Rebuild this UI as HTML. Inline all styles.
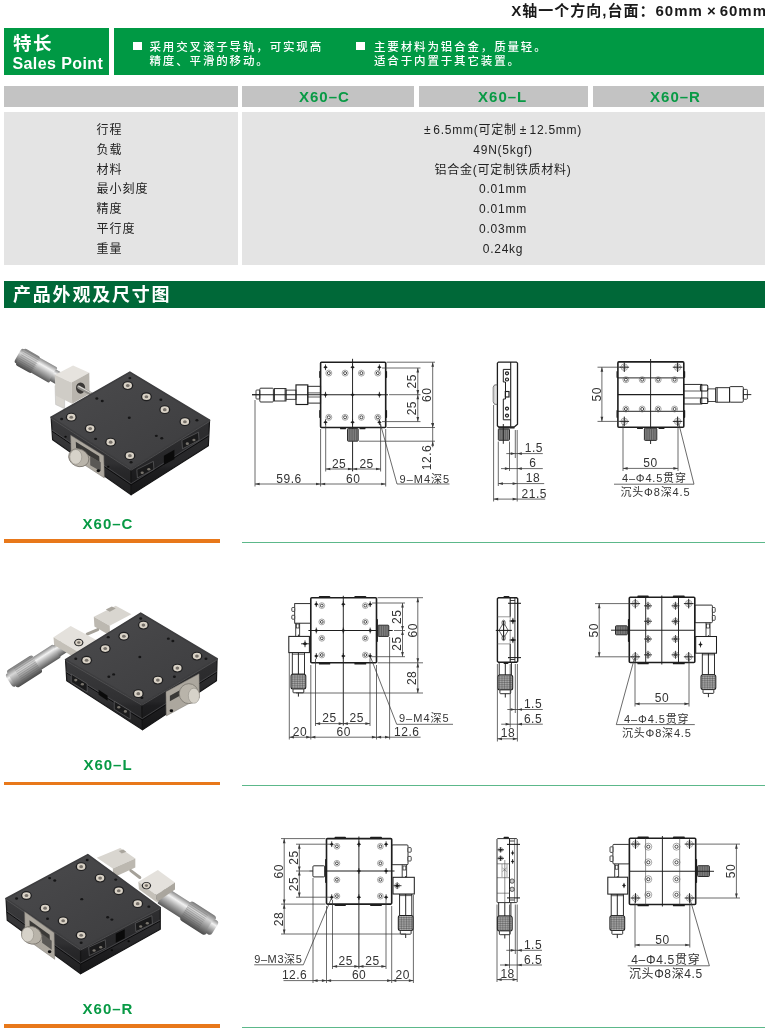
<!DOCTYPE html>
<html lang="zh"><head><meta charset="utf-8"><title>X60</title>
<style>
*{margin:0;padding:0;box-sizing:border-box}
html,body{width:765px;height:1032px;background:#fff;overflow:hidden}
body{position:relative;font-family:"Liberation Sans","Noto Sans CJK SC",sans-serif;color:#222}
.abs{position:absolute}
.title{right:-2px;top:2px;font-size:15px;font-weight:bold;letter-spacing:1px;white-space:nowrap;color:#1a1a1a;line-height:18px}
.g1{left:4px;top:28px;width:105.3px;height:46.7px;background:#009944}
.g2{left:114px;top:28px;width:650.4px;height:46.7px;background:#009944}
.sp1{left:13px;top:33.5px;font-size:18.5px;font-weight:bold;color:#fff;letter-spacing:1.5px;line-height:20px;white-space:nowrap}
.sp2{left:12.5px;top:53.5px;font-size:16px;font-weight:bold;color:#fff;letter-spacing:.4px;line-height:20px;white-space:nowrap}
.bul{width:8.6px;height:8.6px;background:#fff}
.ft{color:#fff;font-size:11.5px;font-weight:500;letter-spacing:1.85px;line-height:13.8px;white-space:nowrap}
.hd{top:85.5px;height:21.4px;background:#c3c3c3}
.bd{top:112.4px;height:152.4px;background:#e4e4e4}
.hx{top:85.5px;height:21px;line-height:21px;font-size:15px;font-weight:bold;color:#089a45;letter-spacing:1px;text-align:center;white-space:nowrap}
.lab{left:96.5px;margin-top:1.3px;font-size:12px;letter-spacing:1px;line-height:16px;color:#222;white-space:nowrap}
.val{left:241px;width:524px;margin-top:1.3px;text-align:center;font-size:12px;letter-spacing:.75px;line-height:16px;color:#222;white-space:nowrap}
.sec{left:4px;top:281px;width:760.5px;height:27.4px;background:#006838}
.sect{left:13px;top:285.3px;font-size:18px;font-weight:bold;color:#fff;letter-spacing:1.8px;line-height:20px;white-space:nowrap}
.pl{font-size:15px;font-weight:bold;color:#089a45;letter-spacing:1px;white-space:nowrap;line-height:18px;width:120px;text-align:center;left:48px}
.or{left:4px;width:216px;height:3.9px;background:#e8781a}
.gl{left:242px;width:523px;height:1.2px;background:#5cb88a}
svg{position:absolute;left:0;top:0}
svg text{font-family:"Liberation Sans","Noto Sans CJK SC",sans-serif}
#w{position:absolute;left:0;top:0;width:765px;height:1032px;will-change:transform}
</style></head><body><div id="w">
<div class="abs title">X轴一个方向,台面：60mm<span style="margin:0 3px 0 4px">×</span>60mm</div>
<div class="abs g1"></div><div class="abs g2"></div>
<div class="abs sp1">特长</div>
<div class="abs sp2">Sales Point</div>
<div class="abs bul" style="left:133px;top:41.5px"></div>
<div class="abs ft" style="left:149.5px;top:41.2px">采用交叉滚子导轨，可实现高<br>精度、平滑的移动。</div>
<div class="abs bul" style="left:356px;top:41.5px"></div>
<div class="abs ft" style="left:374px;top:41.2px">主要材料为铝合金，质量轻。<br>适合于内置于其它装置。</div>
<div class="abs hd" style="left:4px;width:233.8px"></div>
<div class="abs hd" style="left:242px;width:171.9px"></div>
<div class="abs hd" style="left:418.6px;width:169.3px"></div>
<div class="abs hd" style="left:592.9px;width:171.6px"></div>
<div class="abs hx" style="left:224.4px;width:200px">X60–C</div>
<div class="abs hx" style="left:402.7px;width:200px">X60–L</div>
<div class="abs hx" style="left:575.5px;width:200px">X60–R</div>
<div class="abs bd" style="left:4px;width:233.8px"></div>
<div class="abs bd" style="left:242px;width:522.5px"></div>
<div class="abs lab" style="top:121px">行程</div>
<div class="abs lab" style="top:140.5px">负载</div>
<div class="abs lab" style="top:160.5px">材料</div>
<div class="abs lab" style="top:180px">最小刻度</div>
<div class="abs lab" style="top:200px">精度</div>
<div class="abs lab" style="top:220px">平行度</div>
<div class="abs lab" style="top:240px">重量</div>
<div class="abs val" style="top:121px"><span style="margin-right:2px">±</span>6.5mm(可定制<span style="margin:0 2.5px 0 3px">±</span>12.5mm)</div>
<div class="abs val" style="top:140.5px">49N(5kgf)</div>
<div class="abs val" style="top:160.5px">铝合金(可定制铁质材料)</div>
<div class="abs val" style="top:180px">0.01mm</div>
<div class="abs val" style="top:200px">0.01mm</div>
<div class="abs val" style="top:220px">0.03mm</div>
<div class="abs val" style="top:240px">0.24kg</div>
<div class="abs sec"></div>
<div class="abs sect">产品外观及尺寸图</div>
<div class="abs pl" style="top:514.5px">X60–C</div>
<div class="abs or" style="top:539px"></div>
<div class="abs gl" style="top:542px"></div>
<div class="abs pl" style="top:756px">X60–L</div>
<div class="abs or" style="top:781.5px"></div>
<div class="abs gl" style="top:784.5px"></div>
<div class="abs pl" style="top:1000px">X60–R</div>
<div class="abs or" style="top:1024px;height:4.3px"></div>
<div class="abs gl" style="top:1027px"></div>
<svg width="765" height="1032" viewBox="0 0 765 1032">
<defs>
<linearGradient id="gTop" x1="0" y1="0" x2="1" y2="1"><stop offset="0" stop-color="#4b4b4d"/><stop offset="1" stop-color="#3c3c3e"/></linearGradient>
<linearGradient id="gL" x1="0" y1="0" x2="0" y2="1"><stop offset="0" stop-color="#3b3b3d"/><stop offset="0.6" stop-color="#303032"/><stop offset="0.66" stop-color="#29292b"/><stop offset="1" stop-color="#202021"/></linearGradient>
<linearGradient id="gR" x1="0" y1="0" x2="0" y2="1"><stop offset="0" stop-color="#2f2f31"/><stop offset="0.6" stop-color="#262628"/><stop offset="0.66" stop-color="#1e1e20"/><stop offset="1" stop-color="#161617"/></linearGradient>
<linearGradient id="gCyl" x1="0" y1="0" x2="0" y2="1"><stop offset="0" stop-color="#8a8a8a"/><stop offset="0.3" stop-color="#f2f2f2"/><stop offset="0.55" stop-color="#b8b8b8"/><stop offset="1" stop-color="#5a5a5a"/></linearGradient>
<linearGradient id="gCyl2" x1="0" y1="0" x2="0" y2="1"><stop offset="0" stop-color="#777"/><stop offset="0.3" stop-color="#d8d8d8"/><stop offset="0.6" stop-color="#9a9a9a"/><stop offset="1" stop-color="#4a4a4a"/></linearGradient>
<linearGradient id="gSil" x1="0" y1="0" x2="1" y2="1"><stop offset="0" stop-color="#e8e6e2"/><stop offset="1" stop-color="#bdb9b2"/></linearGradient>
<radialGradient id="gScr"><stop offset="0" stop-color="#777"/><stop offset="0.45" stop-color="#8a8680"/><stop offset="0.5" stop-color="#e6e0d6"/><stop offset="1" stop-color="#c9c2b6"/></radialGradient>
</defs>
<g transform="translate(18.64 355.56) rotate(29.7)">
<rect x="-1" y="-8" width="4" height="16" rx="3" fill="url(#gCyl2)"/>
<rect x="1.5" y="-9.6" width="18.5" height="19.2" rx="2.5" fill="url(#gCyl2)"/>
<rect x="19" y="-8.7" width="21" height="17.4" rx="1.5" fill="url(#gCyl)"/>
<rect x="39" y="-6.4" width="11" height="12.8" rx="1" fill="url(#gCyl)"/>
</g>
<g transform="translate(18.64 355.56) rotate(29.7)" stroke="#555" stroke-width="0.4" opacity="0.6"><path d="M2 -8L20.5 -8"/><path d="M2 -6L20.5 -6"/><path d="M2 -4L20.5 -4"/><path d="M2 -2L20.5 -2"/><path d="M2 0L20.5 0"/><path d="M2 2L20.5 2"/><path d="M2 4L20.5 4"/><path d="M2 6L20.5 6"/><path d="M2 8L20.5 8"/></g>
<path d="M55.02 385.62L64.64 390.13L64.64 408.77L55.62 404.56Z" fill="#d8d5cf" stroke="#aaa" stroke-width="0.4" stroke-linejoin="round" />
<path d="M54.72 375.1L73.06 365.48L89.3 372.69L71.56 382.62Z" fill="#e6e3de" stroke="none" stroke-width="0" stroke-linejoin="round" />
<path d="M54.72 375.1L71.56 382.62L72.16 403.66L55.62 395.54Z" fill="#cfccc6" stroke="none" stroke-width="0" stroke-linejoin="round" />
<path d="M71.56 382.62L89.3 372.69L89.6 393.74L72.16 403.66Z" fill="#b9b5ae" stroke="none" stroke-width="0" stroke-linejoin="round" />
<ellipse cx="80.58" cy="388.03" rx="4.6" ry="5.6" fill="#3a3836"/>
<path d="M78.77 387.13L93.21 394.94" stroke="#8e8c88" stroke-width="3.4" stroke-linecap="round"/>
<path d="M78.77 386.33L93.21 394.14" stroke="#dcdad6" stroke-width="1.1" stroke-linecap="round"/>
<path d="M51.11 417.19L131.09 468.91L131.09 494.76L52.62 439.74Z" fill="url(#gL)" stroke="#1a1a1b" stroke-width="1.2" stroke-linejoin="round" />
<path d="M131.09 468.91L209.56 420.2L208.36 445.75L131.09 494.76Z" fill="url(#gR)" stroke="#141415" stroke-width="1.2" stroke-linejoin="round" />
<path d="M51.11 417.19L129.89 372.09L209.56 420.2L131.09 468.91Z" fill="url(#gTop)" stroke="#3d3d3f" stroke-width="1.6" stroke-linejoin="round" />
<path d="M52.04 431.17L131.09 484.94L208.82 436.04" stroke="#0c0c0d" stroke-width="1" fill="none"/>
<path d="M51.97 430.05L131.09 483.64L208.88 434.77" stroke="#58585a" stroke-width="0.6" fill="none"/>
<path d="M51.19 418.32L131.09 470.2L209.5 421.48" stroke="#5a5a5c" stroke-width="0.7" fill="none"/>
<ellipse cx="127.78" cy="385.62" rx="5.46" ry="4.42" fill="#1f1f20"/>
<ellipse cx="127.78" cy="385.62" rx="4.16" ry="3.33" fill="#d9d2c6"/>
<ellipse cx="127.78" cy="385.62" rx="1.87" ry="1.56" fill="#77716a"/>
<ellipse cx="146.42" cy="396.75" rx="5.46" ry="4.42" fill="#1f1f20"/>
<ellipse cx="146.42" cy="396.75" rx="4.16" ry="3.33" fill="#d9d2c6"/>
<ellipse cx="146.42" cy="396.75" rx="1.87" ry="1.56" fill="#77716a"/>
<ellipse cx="164.76" cy="409.68" rx="5.46" ry="4.42" fill="#1f1f20"/>
<ellipse cx="164.76" cy="409.68" rx="4.16" ry="3.33" fill="#d9d2c6"/>
<ellipse cx="164.76" cy="409.68" rx="1.87" ry="1.56" fill="#77716a"/>
<ellipse cx="184.91" cy="421.7" rx="5.46" ry="4.42" fill="#1f1f20"/>
<ellipse cx="184.91" cy="421.7" rx="4.16" ry="3.33" fill="#d9d2c6"/>
<ellipse cx="184.91" cy="421.7" rx="1.87" ry="1.56" fill="#77716a"/>
<ellipse cx="71.26" cy="417.19" rx="5.46" ry="4.42" fill="#1f1f20"/>
<ellipse cx="71.26" cy="417.19" rx="4.16" ry="3.33" fill="#d9d2c6"/>
<ellipse cx="71.26" cy="417.19" rx="1.87" ry="1.56" fill="#77716a"/>
<ellipse cx="90.2" cy="428.62" rx="5.46" ry="4.42" fill="#1f1f20"/>
<ellipse cx="90.2" cy="428.62" rx="4.16" ry="3.33" fill="#d9d2c6"/>
<ellipse cx="90.2" cy="428.62" rx="1.87" ry="1.56" fill="#77716a"/>
<ellipse cx="110.64" cy="442.15" rx="5.46" ry="4.42" fill="#1f1f20"/>
<ellipse cx="110.64" cy="442.15" rx="4.16" ry="3.33" fill="#d9d2c6"/>
<ellipse cx="110.64" cy="442.15" rx="1.87" ry="1.56" fill="#77716a"/>
<ellipse cx="129.89" cy="455.68" rx="5.46" ry="4.42" fill="#1f1f20"/>
<ellipse cx="129.89" cy="455.68" rx="4.16" ry="3.33" fill="#d9d2c6"/>
<ellipse cx="129.89" cy="455.68" rx="1.87" ry="1.56" fill="#77716a"/>
<ellipse cx="129.89" cy="378.11" rx="1.5" ry="1.2" fill="#161617"/>
<ellipse cx="196.93" cy="420.2" rx="1.5" ry="1.2" fill="#161617"/>
<ellipse cx="61.64" cy="419" rx="1.5" ry="1.2" fill="#161617"/>
<ellipse cx="131.09" cy="462.29" rx="1.5" ry="1.2" fill="#161617"/>
<ellipse cx="129.28" cy="417.79" rx="1.5" ry="1.2" fill="#161617"/>
<ellipse cx="96.81" cy="398.55" rx="1.5" ry="1.2" fill="#161617"/>
<ellipse cx="102.22" cy="400.96" rx="1.5" ry="1.2" fill="#161617"/>
<ellipse cx="156.34" cy="435.83" rx="1.5" ry="1.2" fill="#161617"/>
<ellipse cx="161.76" cy="438.24" rx="1.5" ry="1.2" fill="#161617"/>
<ellipse cx="160.85" cy="399.75" rx="1.5" ry="1.2" fill="#161617"/>
<ellipse cx="95.61" cy="438.84" rx="1.5" ry="1.2" fill="#161617"/>
<path d="M70.66 435.23L103.73 455.68L104.33 477.93L71.26 456.28Z" fill="#aca79e" stroke="#7d7972" stroke-width="0.5" stroke-linejoin="round" />
<path d="M75.77 441.85L99.22 456.28L99.52 462.29L76.07 447.86Z" fill="#3a3937" stroke="none" stroke-width="0" stroke-linejoin="round" />
<path d="M90.2 456.28L100.72 462.29L100.72 471.31L90.2 465.3Z" fill="#5a5855" stroke="none" stroke-width="0" stroke-linejoin="round" />
<ellipse cx="78.77" cy="457.78" rx="10.4" ry="8.6" fill="#b9b4aa" stroke="#7a766f" stroke-width="0.8" transform="rotate(25 78.77 457.78)"/>
<ellipse cx="75.77" cy="456.88" rx="6" ry="7.4" fill="#d6d2c9" stroke="#8a867f" stroke-width="0.5"/>
<ellipse cx="98.32" cy="470.71" rx="1.8" ry="1.44" fill="#0e0e0e"/>
<ellipse cx="65.54" cy="436.73" rx="1.2" ry="0.96" fill="#0c0c0c"/>
<ellipse cx="108.24" cy="466.8" rx="1.2" ry="0.96" fill="#0c0c0c"/>
<path d="M163.86 455.68L174.38 449.66L174.38 459.28L163.86 464.7Z" fill="#0a0a0a" stroke="none" stroke-width="0" stroke-linejoin="round" />
<path d="M136.8 469.51L153.34 461.39L153.94 469.51L137.4 477.93Z" fill="#1a1a1b" stroke="#6a6a6c" stroke-width="0.6" stroke-linejoin="round" />
<ellipse cx="142.21" cy="472.81" rx="1.6" ry="1.28" fill="#77736c"/>
<ellipse cx="148.83" cy="469.21" rx="1.6" ry="1.28" fill="#77736c"/>
<path d="M181.9 440.34L198.44 432.22L199.04 440.34L182.5 448.76Z" fill="#1a1a1b" stroke="#6a6a6c" stroke-width="0.6" stroke-linejoin="round" />
<ellipse cx="187.31" cy="443.65" rx="1.6" ry="1.28" fill="#77736c"/>
<ellipse cx="193.93" cy="440.04" rx="1.6" ry="1.28" fill="#77736c"/>
<path d="M93.81 616.68L115.75 605.86L131.39 614.28L109.74 625.7Z" fill="#d9d6d0" stroke="none" stroke-width="0" stroke-linejoin="round" />
<path d="M93.81 616.68L109.74 625.7L110.04 635.62L94.41 626.6Z" fill="#bcb8b0" stroke="none" stroke-width="0" stroke-linejoin="round" />
<path d="M105.83 609.46L111.85 606.46L115.75 608.56L109.74 611.87Z" fill="#a9a59d" stroke="none" stroke-width="0" stroke-linejoin="round" />
<path d="M87.19 634.12L97.71 629.61" stroke="#a5a199" stroke-width="3" stroke-linecap="round"/>
<g transform="translate(9.8 680.8) rotate(-32.5)">
<rect x="-1" y="-7.6" width="5" height="15.2" rx="3.5" fill="url(#gCyl)"/>
<rect x="2" y="-10.2" width="31" height="20.4" rx="3" fill="url(#gCyl2)"/>
<rect x="32" y="-7.6" width="24" height="15.2" rx="1.5" fill="url(#gCyl)"/>
<rect x="55" y="-6.5" width="9" height="13" rx="1" fill="url(#gCyl)"/>
</g>
<g transform="translate(9.8 680.8) rotate(-32.5)" stroke="#555" stroke-width="0.4" opacity="0.6"><path d="M10 -8L32 -8"/><path d="M10 -6L32 -6"/><path d="M10 -4L32 -4"/><path d="M10 -2L32 -2"/><path d="M10 0L32 0"/><path d="M10 2L32 2"/><path d="M10 4L32 4"/><path d="M10 6L32 6"/><path d="M10 8L32 8"/></g>
<path d="M53.52 637.13L70.66 626L96.81 640.13L78.77 652.16Z" fill="#e4e1dc" stroke="none" stroke-width="0" stroke-linejoin="round" />
<path d="M53.52 637.13L78.77 652.16L79.07 660.58L54.12 644.94Z" fill="#c4c0b8" stroke="none" stroke-width="0" stroke-linejoin="round" />
<ellipse cx="78.77" cy="642.54" rx="4.62" ry="3.74" fill="#1f1f20"/>
<ellipse cx="78.77" cy="642.54" rx="3.52" ry="2.82" fill="#d9d2c6"/>
<ellipse cx="78.77" cy="642.54" rx="1.58" ry="1.32" fill="#77716a"/>
<path d="M65.54 659.68L141.91 703.87L142.51 729.73L66.75 680.72Z" fill="url(#gL)" stroke="#1a1a1b" stroke-width="1.2" stroke-linejoin="round" />
<path d="M141.91 703.87L217.08 658.77L216.48 680.72L142.51 729.73Z" fill="url(#gR)" stroke="#141415" stroke-width="1.2" stroke-linejoin="round" />
<path d="M65.54 659.68L140.71 613.07L217.08 658.77L141.91 703.87Z" fill="url(#gTop)" stroke="#3d3d3f" stroke-width="1.6" stroke-linejoin="round" />
<path d="M66.29 672.72L142.29 719.9L216.7 672.38" stroke="#0c0c0d" stroke-width="1" fill="none"/>
<path d="M66.23 671.67L142.25 718.61L216.73 671.28" stroke="#58585a" stroke-width="0.6" fill="none"/>
<path d="M65.6 660.73L141.94 705.17L217.05 659.87" stroke="#5a5a5c" stroke-width="0.7" fill="none"/>
<ellipse cx="143.42" cy="625.1" rx="5.46" ry="4.42" fill="#1f1f20"/>
<ellipse cx="143.42" cy="625.1" rx="4.16" ry="3.33" fill="#d9d2c6"/>
<ellipse cx="143.42" cy="625.1" rx="1.87" ry="1.56" fill="#77716a"/>
<ellipse cx="123.87" cy="636.22" rx="5.46" ry="4.42" fill="#1f1f20"/>
<ellipse cx="123.87" cy="636.22" rx="4.16" ry="3.33" fill="#d9d2c6"/>
<ellipse cx="123.87" cy="636.22" rx="1.87" ry="1.56" fill="#77716a"/>
<ellipse cx="105.23" cy="648.55" rx="5.46" ry="4.42" fill="#1f1f20"/>
<ellipse cx="105.23" cy="648.55" rx="4.16" ry="3.33" fill="#d9d2c6"/>
<ellipse cx="105.23" cy="648.55" rx="1.87" ry="1.56" fill="#77716a"/>
<ellipse cx="86.59" cy="660.28" rx="5.46" ry="4.42" fill="#1f1f20"/>
<ellipse cx="86.59" cy="660.28" rx="4.16" ry="3.33" fill="#d9d2c6"/>
<ellipse cx="86.59" cy="660.28" rx="1.87" ry="1.56" fill="#77716a"/>
<ellipse cx="196.93" cy="656.07" rx="5.46" ry="4.42" fill="#1f1f20"/>
<ellipse cx="196.93" cy="656.07" rx="4.16" ry="3.33" fill="#d9d2c6"/>
<ellipse cx="196.93" cy="656.07" rx="1.87" ry="1.56" fill="#77716a"/>
<ellipse cx="177.39" cy="668.09" rx="5.46" ry="4.42" fill="#1f1f20"/>
<ellipse cx="177.39" cy="668.09" rx="4.16" ry="3.33" fill="#d9d2c6"/>
<ellipse cx="177.39" cy="668.09" rx="1.87" ry="1.56" fill="#77716a"/>
<ellipse cx="157.85" cy="680.12" rx="5.46" ry="4.42" fill="#1f1f20"/>
<ellipse cx="157.85" cy="680.12" rx="4.16" ry="3.33" fill="#d9d2c6"/>
<ellipse cx="157.85" cy="680.12" rx="1.87" ry="1.56" fill="#77716a"/>
<ellipse cx="138.3" cy="693.65" rx="5.46" ry="4.42" fill="#1f1f20"/>
<ellipse cx="138.3" cy="693.65" rx="4.16" ry="3.33" fill="#d9d2c6"/>
<ellipse cx="138.3" cy="693.65" rx="1.87" ry="1.56" fill="#77716a"/>
<ellipse cx="140.71" cy="618.48" rx="1.5" ry="1.2" fill="#161617"/>
<ellipse cx="205.95" cy="658.77" rx="1.5" ry="1.2" fill="#161617"/>
<ellipse cx="75.77" cy="658.77" rx="1.5" ry="1.2" fill="#161617"/>
<ellipse cx="141.91" cy="697.86" rx="1.5" ry="1.2" fill="#161617"/>
<ellipse cx="139.81" cy="656.97" rx="1.5" ry="1.2" fill="#161617"/>
<ellipse cx="168.37" cy="638.63" rx="1.5" ry="1.2" fill="#161617"/>
<ellipse cx="172.88" cy="641.03" rx="1.5" ry="1.2" fill="#161617"/>
<ellipse cx="108.84" cy="676.81" rx="1.5" ry="1.2" fill="#161617"/>
<ellipse cx="113.65" cy="674.41" rx="1.5" ry="1.2" fill="#161617"/>
<ellipse cx="108.24" cy="637.13" rx="1.5" ry="1.2" fill="#161617"/>
<ellipse cx="174.38" cy="676.81" rx="1.5" ry="1.2" fill="#161617"/>
<path d="M165.97 691.85L199.04 673.81L199.34 697.86L166.27 715.9Z" fill="#aca79e" stroke="#7d7972" stroke-width="0.5" stroke-linejoin="round" />
<path d="M169.87 695.75L183.4 688.24L183.4 693.65L169.87 701.17Z" fill="#3a3937" stroke="none" stroke-width="0" stroke-linejoin="round" />
<ellipse cx="188.82" cy="693.65" rx="9.6" ry="10" fill="#b9b4aa" stroke="#7a766f" stroke-width="0.8"/>
<ellipse cx="193.93" cy="695.75" rx="5.6" ry="7.6" fill="#d6d2c9" stroke="#8a867f" stroke-width="0.5"/>
<ellipse cx="171.38" cy="710.79" rx="1.8" ry="1.44" fill="#0e0e0e"/>
<path d="M98.62 689.74L107.64 695.75L107.64 700.87L98.62 694.85Z" fill="#0a0a0a" stroke="none" stroke-width="0" stroke-linejoin="round" />
<path d="M71.26 674.11L87.19 683.73L87.19 692.15L71.26 682.22Z" fill="#1a1a1b" stroke="#6a6a6c" stroke-width="0.6" stroke-linejoin="round" />
<ellipse cx="75.77" cy="680.12" rx="1.6" ry="1.28" fill="#77736c"/>
<ellipse cx="82.38" cy="684.33" rx="1.6" ry="1.28" fill="#77736c"/>
<path d="M114.25 701.17L130.19 710.79L130.19 719.21L114.25 709.28Z" fill="#1a1a1b" stroke="#6a6a6c" stroke-width="0.6" stroke-linejoin="round" />
<ellipse cx="118.76" cy="707.18" rx="1.6" ry="1.28" fill="#77736c"/>
<ellipse cx="125.38" cy="711.39" rx="1.6" ry="1.28" fill="#77736c"/>
<path d="M96.81 857.66L120.26 848.04L135.3 858.56L112.75 868.48Z" fill="#d9d6d0" stroke="none" stroke-width="0" stroke-linejoin="round" />
<path d="M112.75 868.48L135.3 858.56L135.3 867.58L113.35 877.5Z" fill="#bcb8b0" stroke="none" stroke-width="0" stroke-linejoin="round" />
<path d="M118.76 851.05L123.27 849.54L126.28 851.65L121.77 853.45Z" fill="#a9a59d" stroke="none" stroke-width="0" stroke-linejoin="round" />
<path d="M130.79 870.59L139.81 877.5" stroke="#a5a199" stroke-width="3" stroke-linecap="round"/>
<g transform="translate(156.34 891.64) rotate(32.5)">
<rect x="0" y="-6.5" width="8" height="13" rx="1" fill="url(#gCyl)"/>
<rect x="7" y="-9.2" width="29" height="18.4" rx="1" fill="url(#gCyl)"/>
<rect x="34" y="-11.2" width="31" height="22.4" rx="3.5" fill="url(#gCyl2)"/>
<rect x="63" y="-8.2" width="6.5" height="16.4" rx="3.5" fill="url(#gCyl)"/>
</g>
<g transform="translate(156.34 891.64) rotate(33)" stroke="#555" stroke-width="0.4" opacity="0.6"><path d="M34 -8L56 -8"/><path d="M34 -6L56 -6"/><path d="M34 -4L56 -4"/><path d="M34 -2L56 -2"/><path d="M34 0L56 0"/><path d="M34 2L56 2"/><path d="M34 4L56 4"/><path d="M34 6L56 6"/><path d="M34 8L56 8"/></g>
<path d="M138.3 881.71L157.85 869.99L174.98 882.62L156.34 894.94Z" fill="#e4e1dc" stroke="none" stroke-width="0" stroke-linejoin="round" />
<path d="M138.3 881.71L156.34 894.94L156.64 902.16L138.91 889.23Z" fill="#c4c0b8" stroke="none" stroke-width="0" stroke-linejoin="round" />
<path d="M156.34 894.94L174.98 882.62L174.98 889.53L156.64 902.16Z" fill="#aaa69e" stroke="none" stroke-width="0" stroke-linejoin="round" />
<ellipse cx="146.42" cy="885.62" rx="4.62" ry="3.74" fill="#1f1f20"/>
<ellipse cx="146.42" cy="885.62" rx="3.52" ry="2.82" fill="#d9d2c6"/>
<ellipse cx="146.42" cy="885.62" rx="1.58" ry="1.32" fill="#77716a"/>
<path d="M6.01 898.55L80.58 948.76L80.58 973.72L7.22 920.2Z" fill="url(#gL)" stroke="#1a1a1b" stroke-width="1.2" stroke-linejoin="round" />
<path d="M80.58 948.76L160.25 907.57L160.25 929.22L80.58 973.72Z" fill="url(#gR)" stroke="#141415" stroke-width="1.2" stroke-linejoin="round" />
<path d="M6.01 898.55L87.79 854.65L160.25 907.57L80.58 948.76Z" fill="url(#gTop)" stroke="#3d3d3f" stroke-width="1.6" stroke-linejoin="round" />
<path d="M6.76 911.97L80.58 964.23L160.25 920.99" stroke="#0c0c0d" stroke-width="1" fill="none"/>
<path d="M6.7 910.89L80.58 962.99L160.25 919.91" stroke="#58585a" stroke-width="0.6" fill="none"/>
<path d="M6.07 899.63L80.58 950.01L160.25 908.65" stroke="#5a5a5c" stroke-width="0.7" fill="none"/>
<ellipse cx="81.18" cy="866.68" rx="5.46" ry="4.42" fill="#1f1f20"/>
<ellipse cx="81.18" cy="866.68" rx="4.16" ry="3.33" fill="#d9d2c6"/>
<ellipse cx="81.18" cy="866.68" rx="1.87" ry="1.56" fill="#77716a"/>
<ellipse cx="100.12" cy="878.11" rx="5.46" ry="4.42" fill="#1f1f20"/>
<ellipse cx="100.12" cy="878.11" rx="4.16" ry="3.33" fill="#d9d2c6"/>
<ellipse cx="100.12" cy="878.11" rx="1.87" ry="1.56" fill="#77716a"/>
<ellipse cx="118.76" cy="890.73" rx="5.46" ry="4.42" fill="#1f1f20"/>
<ellipse cx="118.76" cy="890.73" rx="4.16" ry="3.33" fill="#d9d2c6"/>
<ellipse cx="118.76" cy="890.73" rx="1.87" ry="1.56" fill="#77716a"/>
<ellipse cx="137.7" cy="903.66" rx="5.46" ry="4.42" fill="#1f1f20"/>
<ellipse cx="137.7" cy="903.66" rx="4.16" ry="3.33" fill="#d9d2c6"/>
<ellipse cx="137.7" cy="903.66" rx="1.87" ry="1.56" fill="#77716a"/>
<ellipse cx="26.46" cy="895.54" rx="5.46" ry="4.42" fill="#1f1f20"/>
<ellipse cx="26.46" cy="895.54" rx="4.16" ry="3.33" fill="#d9d2c6"/>
<ellipse cx="26.46" cy="895.54" rx="1.87" ry="1.56" fill="#77716a"/>
<ellipse cx="45.1" cy="908.17" rx="5.46" ry="4.42" fill="#1f1f20"/>
<ellipse cx="45.1" cy="908.17" rx="4.16" ry="3.33" fill="#d9d2c6"/>
<ellipse cx="45.1" cy="908.17" rx="1.87" ry="1.56" fill="#77716a"/>
<ellipse cx="63.14" cy="920.8" rx="5.46" ry="4.42" fill="#1f1f20"/>
<ellipse cx="63.14" cy="920.8" rx="4.16" ry="3.33" fill="#d9d2c6"/>
<ellipse cx="63.14" cy="920.8" rx="1.87" ry="1.56" fill="#77716a"/>
<ellipse cx="81.18" cy="935.23" rx="5.46" ry="4.42" fill="#1f1f20"/>
<ellipse cx="81.18" cy="935.23" rx="4.16" ry="3.33" fill="#d9d2c6"/>
<ellipse cx="81.18" cy="935.23" rx="1.87" ry="1.56" fill="#77716a"/>
<ellipse cx="87.19" cy="860.07" rx="1.5" ry="1.2" fill="#161617"/>
<ellipse cx="148.83" cy="906.67" rx="1.5" ry="1.2" fill="#161617"/>
<ellipse cx="16.54" cy="898.55" rx="1.5" ry="1.2" fill="#161617"/>
<ellipse cx="81.18" cy="942.75" rx="1.5" ry="1.2" fill="#161617"/>
<ellipse cx="81.78" cy="899.15" rx="1.5" ry="1.2" fill="#161617"/>
<ellipse cx="49.61" cy="878.11" rx="1.5" ry="1.2" fill="#161617"/>
<ellipse cx="54.72" cy="880.51" rx="1.5" ry="1.2" fill="#161617"/>
<ellipse cx="107.64" cy="917.19" rx="1.5" ry="1.2" fill="#161617"/>
<ellipse cx="111.85" cy="919.6" rx="1.5" ry="1.2" fill="#161617"/>
<ellipse cx="115.75" cy="879.61" rx="1.5" ry="1.2" fill="#161617"/>
<ellipse cx="47.5" cy="918.7" rx="1.5" ry="1.2" fill="#161617"/>
<path d="M24.65 911.78L54.12 932.83L54.72 959.28L25.26 938.24Z" fill="#aca79e" stroke="#7d7972" stroke-width="0.5" stroke-linejoin="round" />
<path d="M29.46 920.2L49.61 934.63L49.91 940.64L29.77 926.21Z" fill="#3a3937" stroke="none" stroke-width="0" stroke-linejoin="round" />
<path d="M42.09 933.73L51.71 940.64L51.71 949.66L42.09 942.75Z" fill="#5a5855" stroke="none" stroke-width="0" stroke-linejoin="round" />
<ellipse cx="31.57" cy="935.23" rx="10.4" ry="8.6" fill="#b9b4aa" stroke="#7a766f" stroke-width="0.8" transform="rotate(25 31.57 935.23)"/>
<ellipse cx="27.66" cy="934.63" rx="6" ry="7.4" fill="#d6d2c9" stroke="#8a867f" stroke-width="0.5"/>
<ellipse cx="49.61" cy="951.77" rx="1.8" ry="1.44" fill="#0e0e0e"/>
<path d="M115.75 933.73L124.77 929.22L124.77 938.24L115.75 942.75Z" fill="#0a0a0a" stroke="none" stroke-width="0" stroke-linejoin="round" />
<path d="M88.7 947.26L105.23 939.74L105.83 947.86L89.3 955.68Z" fill="#1a1a1b" stroke="#6a6a6c" stroke-width="0.6" stroke-linejoin="round" />
<ellipse cx="94.11" cy="950.57" rx="1.6" ry="1.28" fill="#77736c"/>
<ellipse cx="100.72" cy="947.26" rx="1.6" ry="1.28" fill="#77736c"/>
<path d="M135.3 923.21L151.83 915.69L152.44 923.81L135.9 931.62Z" fill="#1a1a1b" stroke="#6a6a6c" stroke-width="0.6" stroke-linejoin="round" />
<ellipse cx="140.71" cy="926.51" rx="1.6" ry="1.28" fill="#77736c"/>
<ellipse cx="147.32" cy="923.21" rx="1.6" ry="1.28" fill="#77736c"/>
<ellipse cx="111.85" cy="950.26" rx="1.2" ry="0.96" fill="#0a0a0a"/>
<ellipse cx="128.68" cy="941.24" rx="1.2" ry="0.96" fill="#0a0a0a"/>
<rect x="340" y="427.5" width="6" height="1.8" rx="0.9" fill="#1e1e1e"/>
<rect x="359.5" y="427.5" width="6" height="1.8" rx="0.9" fill="#1e1e1e"/>
<rect x="319.2" y="371" width="1.4" height="7" rx="0.7" fill="#1e1e1e"/>
<rect x="319.2" y="410" width="1.4" height="8" rx="0.7" fill="#1e1e1e"/>
<rect x="385.7" y="371" width="1.4" height="7" rx="0.7" fill="#1e1e1e"/>
<rect x="385.7" y="410" width="1.4" height="8" rx="0.7" fill="#1e1e1e"/>
<rect x="320.6" y="362.2" width="65.1" height="65.3" rx="1" stroke="#1e1e1e" stroke-width="1.6099999999999999" fill="#fff"/>
<path d="M352.55 358.8L352.55 471" stroke="#1e1e1e" stroke-width="0.96" fill="none"/>
<path d="M252 394.7L388 394.7" stroke="#1e1e1e" stroke-width="1.08" fill="none"/>
<circle cx="328.8" cy="373.1" r="3" stroke="#555" stroke-width="0.5" fill="none"/>
<circle cx="328.8" cy="373.1" r="1.5" stroke="#1e1e1e" stroke-width="0.8" fill="none"/>
<circle cx="328.8" cy="417.3" r="3" stroke="#555" stroke-width="0.5" fill="none"/>
<circle cx="328.8" cy="417.3" r="1.5" stroke="#1e1e1e" stroke-width="0.8" fill="none"/>
<circle cx="345.1" cy="373.1" r="3" stroke="#555" stroke-width="0.5" fill="none"/>
<circle cx="345.1" cy="373.1" r="1.5" stroke="#1e1e1e" stroke-width="0.8" fill="none"/>
<circle cx="345.1" cy="417.3" r="3" stroke="#555" stroke-width="0.5" fill="none"/>
<circle cx="345.1" cy="417.3" r="1.5" stroke="#1e1e1e" stroke-width="0.8" fill="none"/>
<circle cx="361.4" cy="373.1" r="3" stroke="#555" stroke-width="0.5" fill="none"/>
<circle cx="361.4" cy="373.1" r="1.5" stroke="#1e1e1e" stroke-width="0.8" fill="none"/>
<circle cx="361.4" cy="417.3" r="3" stroke="#555" stroke-width="0.5" fill="none"/>
<circle cx="361.4" cy="417.3" r="1.5" stroke="#1e1e1e" stroke-width="0.8" fill="none"/>
<circle cx="377.8" cy="373.1" r="3" stroke="#555" stroke-width="0.5" fill="none"/>
<circle cx="377.8" cy="373.1" r="1.5" stroke="#1e1e1e" stroke-width="0.8" fill="none"/>
<circle cx="377.8" cy="417.3" r="3" stroke="#555" stroke-width="0.5" fill="none"/>
<circle cx="377.8" cy="417.3" r="1.5" stroke="#1e1e1e" stroke-width="0.8" fill="none"/>
<path d="M323.3 367.3L325.5 365.76L327.7 367.3L325.5 368.84Z" fill="#1e1e1e"/>
<path d="M325.5 364.44L325.5 370.16" stroke="#1e1e1e" stroke-width="0.84" fill="none"/>
<path d="M323.3 394.7L325.5 393.16L327.7 394.7L325.5 396.24Z" fill="#1e1e1e"/>
<path d="M325.5 391.84L325.5 397.56" stroke="#1e1e1e" stroke-width="0.84" fill="none"/>
<path d="M323.3 422.2L325.5 420.66L327.7 422.2L325.5 423.74Z" fill="#1e1e1e"/>
<path d="M325.5 419.34L325.5 425.06" stroke="#1e1e1e" stroke-width="0.84" fill="none"/>
<path d="M350.35 367.3L352.55 365.76L354.75 367.3L352.55 368.84Z" fill="#1e1e1e"/>
<path d="M352.55 364.44L352.55 370.16" stroke="#1e1e1e" stroke-width="0.84" fill="none"/>
<path d="M350.35 394.7L352.55 393.16L354.75 394.7L352.55 396.24Z" fill="#1e1e1e"/>
<path d="M352.55 391.84L352.55 397.56" stroke="#1e1e1e" stroke-width="0.84" fill="none"/>
<path d="M350.35 422.2L352.55 420.66L354.75 422.2L352.55 423.74Z" fill="#1e1e1e"/>
<path d="M352.55 419.34L352.55 425.06" stroke="#1e1e1e" stroke-width="0.84" fill="none"/>
<path d="M377.2 367.3L379.4 365.76L381.6 367.3L379.4 368.84Z" fill="#1e1e1e"/>
<path d="M379.4 364.44L379.4 370.16" stroke="#1e1e1e" stroke-width="0.84" fill="none"/>
<path d="M377.2 394.7L379.4 393.16L381.6 394.7L379.4 396.24Z" fill="#1e1e1e"/>
<path d="M379.4 391.84L379.4 397.56" stroke="#1e1e1e" stroke-width="0.84" fill="none"/>
<path d="M377.2 422.2L379.4 420.66L381.6 422.2L379.4 423.74Z" fill="#1e1e1e"/>
<path d="M379.4 419.34L379.4 425.06" stroke="#1e1e1e" stroke-width="0.84" fill="none"/>
<rect x="307.8" y="386.3" width="12.8" height="16.8" rx="0" stroke="#1e1e1e" stroke-width="0.9199999999999999" fill="none"/>
<path d="M320.6 392.9L307.8 392.9" stroke="#1e1e1e" stroke-width="0.72" fill="none"/>
<path d="M320.6 397L307.8 397" stroke="#1e1e1e" stroke-width="0.72" fill="none"/>
<rect x="296" y="384.9" width="11.8" height="19.6" rx="0" stroke="#1e1e1e" stroke-width="1.15" fill="none"/>
<rect x="286" y="390.1" width="10" height="9.2" rx="0" stroke="#1e1e1e" stroke-width="0.8049999999999999" fill="none"/>
<rect x="274.4" y="388.6" width="11.6" height="12.4" rx="0" stroke="#1e1e1e" stroke-width="0.9199999999999999" fill="none"/>
<path d="M285 388.6L285 401" stroke="#1e1e1e" stroke-width="0.72" fill="none"/>
<rect x="259.8" y="388.2" width="13.6" height="13.8" rx="1" stroke="#1e1e1e" stroke-width="0.9199999999999999" fill="none"/>
<rect x="256" y="390" width="3.8" height="9" rx="0.8" stroke="#1e1e1e" stroke-width="0.8049999999999999" fill="none"/>
<path d="M259.8 394.7L252 394.7" stroke="#1e1e1e" stroke-width="0.96" fill="none"/>
<rect x="347.5" y="428.6" width="10.7" height="12.6" rx="0.8" stroke="#1e1e1e" stroke-width="0.9199999999999999" fill="#8a8a8a"/>
<path d="M349.28 429.1L349.28 440.7" stroke="#333" stroke-width="0.5" fill="none"/>
<path d="M351.07 429.1L351.07 440.7" stroke="#333" stroke-width="0.5" fill="none"/>
<path d="M352.85 429.1L352.85 440.7" stroke="#333" stroke-width="0.5" fill="none"/>
<path d="M354.63 429.1L354.63 440.7" stroke="#333" stroke-width="0.5" fill="none"/>
<path d="M356.42 429.1L356.42 440.7" stroke="#333" stroke-width="0.5" fill="none"/>
<path d="M325.7 424L325.7 471.5" stroke="#3a3a3a" stroke-width="0.75" fill="none"/>
<path d="M380.6 424L380.6 471.5" stroke="#3a3a3a" stroke-width="0.75" fill="none"/>
<path d="M352.55 441L352.55 471.5" stroke="#3a3a3a" stroke-width="0.75" fill="none"/>
<path d="M325.7 469L352.55 469" stroke="#3a3a3a" stroke-width="0.75" fill="none"/>
<path d="M325.7 469L330.3 467.65L330.3 470.35Z" fill="#3a3a3a"/>
<path d="M352.55 469L347.95 467.65L347.95 470.35Z" fill="#3a3a3a"/>
<text x="339.12" y="467.5" font-size="12" text-anchor="middle" letter-spacing="0.5" fill="#333" font-weight="normal">25</text>
<path d="M352.55 469L380.6 469" stroke="#3a3a3a" stroke-width="0.75" fill="none"/>
<path d="M352.55 469L357.15 467.65L357.15 470.35Z" fill="#3a3a3a"/>
<path d="M380.6 469L376 467.65L376 470.35Z" fill="#3a3a3a"/>
<text x="366.57" y="467.5" font-size="12" text-anchor="middle" letter-spacing="0.5" fill="#333" font-weight="normal">25</text>
<path d="M255 400L255 486.5" stroke="#3a3a3a" stroke-width="0.75" fill="none"/>
<path d="M320.6 429L320.6 486.5" stroke="#3a3a3a" stroke-width="0.75" fill="none"/>
<path d="M385.7 429L385.7 486.5" stroke="#3a3a3a" stroke-width="0.75" fill="none"/>
<path d="M255 484L320.6 484" stroke="#3a3a3a" stroke-width="0.75" fill="none"/>
<path d="M255 484L259.6 482.65L259.6 485.35Z" fill="#3a3a3a"/>
<path d="M320.6 484L316 482.65L316 485.35Z" fill="#3a3a3a"/>
<text x="289" y="482.5" font-size="12" text-anchor="middle" letter-spacing="0.5" fill="#333" font-weight="normal">59.6</text>
<path d="M320.6 484L385.7 484" stroke="#3a3a3a" stroke-width="0.75" fill="none"/>
<path d="M320.6 484L325.2 482.65L325.2 485.35Z" fill="#3a3a3a"/>
<path d="M385.7 484L381.1 482.65L381.1 485.35Z" fill="#3a3a3a"/>
<text x="353.15" y="482.5" font-size="12" text-anchor="middle" letter-spacing="0.5" fill="#333" font-weight="normal">60</text>
<path d="M386.7 362.2L435 362.2" stroke="#3a3a3a" stroke-width="0.75" fill="none"/>
<path d="M382 368L420.5 368" stroke="#3a3a3a" stroke-width="0.75" fill="none"/>
<path d="M389 394.7L420.5 394.7" stroke="#3a3a3a" stroke-width="0.75" fill="none"/>
<path d="M382 421.6L420.5 421.6" stroke="#3a3a3a" stroke-width="0.75" fill="none"/>
<path d="M386.7 427.5L435 427.5" stroke="#3a3a3a" stroke-width="0.75" fill="none"/>
<path d="M359 441.2L435 441.2" stroke="#3a3a3a" stroke-width="0.75" fill="none"/>
<path d="M417.8 368L417.8 394.7" stroke="#3a3a3a" stroke-width="0.75" fill="none"/>
<path d="M417.8 368L416.45 372.6L419.15 372.6Z" fill="#3a3a3a"/>
<path d="M417.8 394.7L416.45 390.1L419.15 390.1Z" fill="#3a3a3a"/>
<text x="416.5" y="381.35" font-size="12" text-anchor="middle" letter-spacing="0.5" fill="#333" font-weight="normal" transform="rotate(-90 416.5 381.35)">25</text>
<path d="M417.8 394.7L417.8 421.6" stroke="#3a3a3a" stroke-width="0.75" fill="none"/>
<path d="M417.8 394.7L416.45 399.3L419.15 399.3Z" fill="#3a3a3a"/>
<path d="M417.8 421.6L416.45 417L419.15 417Z" fill="#3a3a3a"/>
<text x="416.5" y="408.15" font-size="12" text-anchor="middle" letter-spacing="0.5" fill="#333" font-weight="normal" transform="rotate(-90 416.5 408.15)">25</text>
<path d="M432.7 362.2L432.7 427.5" stroke="#3a3a3a" stroke-width="0.75" fill="none"/>
<path d="M432.7 362.2L431.35 366.8L434.05 366.8Z" fill="#3a3a3a"/>
<path d="M432.7 427.5L431.35 422.9L434.05 422.9Z" fill="#3a3a3a"/>
<text x="431.4" y="394.85" font-size="12" text-anchor="middle" letter-spacing="0.5" fill="#333" font-weight="normal" transform="rotate(-90 431.4 394.85)">60</text>
<path d="M432.7 427.5L432.7 447.2" stroke="#3a3a3a" stroke-width="0.75" fill="none"/>
<path d="M432.7 427.5L431.35 422.9L434.05 422.9Z" fill="#3a3a3a"/>
<path d="M432.7 441.2L431.35 445.8L434.05 445.8Z" fill="#3a3a3a"/>
<text x="431.3" y="457.5" font-size="12" text-anchor="middle" letter-spacing="0.5" fill="#333" font-weight="normal" transform="rotate(-90 431.3 457.5)">12.6</text>
<path d="M380 422.5L397 484" stroke="#3a3a3a" stroke-width="0.75" fill="none"/>
<path d="M397 484L449.5 484" stroke="#3a3a3a" stroke-width="0.75" fill="none"/>
<text x="399.6" y="482.6" font-size="11" text-anchor="start" letter-spacing="1" fill="#333" font-weight="normal">9–M4深5</text>
<path d="M498.4 362.1L516.5 362.1L517.5 363.1L517.5 424.3L514.5 426.8L498.4 426.8L497.4 425.8L497.4 363.1Z" stroke="#1e1e1e" stroke-width="1.3" fill="#fff" stroke-linejoin="round"/>
<path d="M510.7 362.1L510.7 426.8" stroke="#1e1e1e" stroke-width="1.08" fill="none"/>
<path d="M510.7 369.4L503.3 369.4L503.3 382L505.5 382L505.5 399L503.3 399L503.3 419.8L510.7 419.8" stroke="#1e1e1e" stroke-width="1.0" fill="none" stroke-linejoin="round"/>
<circle cx="507" cy="373.3" r="1.5" stroke="#1e1e1e" stroke-width="1.2" fill="none"/>
<circle cx="507" cy="379.5" r="1.5" stroke="#1e1e1e" stroke-width="1.2" fill="none"/>
<circle cx="507" cy="408.6" r="1.5" stroke="#1e1e1e" stroke-width="1.2" fill="none"/>
<circle cx="507" cy="415.6" r="1.5" stroke="#1e1e1e" stroke-width="1.2" fill="none"/>
<rect x="505.3" y="391.5" width="3.7" height="5.5" rx="0" stroke="#1e1e1e" stroke-width="1.15" fill="none"/>
<path d="M497.4 384.9L494.6 384.9L493.2 387L493.2 402L494.6 404.3L497.4 404.3" stroke="#444" stroke-width="0.7" fill="none" stroke-linejoin="round"/>
<path d="M494.9 384.9L494.9 404.3" stroke="#666" stroke-width="0.5" fill="none"/>
<rect x="498.3" y="429" width="11.2" height="11.3" rx="0.8" stroke="#1e1e1e" stroke-width="0.9199999999999999" fill="#8a8a8a"/>
<path d="M500.17 429.5L500.17 439.8" stroke="#333" stroke-width="0.5" fill="none"/>
<path d="M502.03 429.5L502.03 439.8" stroke="#333" stroke-width="0.5" fill="none"/>
<path d="M503.9 429.5L503.9 439.8" stroke="#333" stroke-width="0.5" fill="none"/>
<path d="M505.77 429.5L505.77 439.8" stroke="#333" stroke-width="0.5" fill="none"/>
<path d="M507.63 429.5L507.63 439.8" stroke="#333" stroke-width="0.5" fill="none"/>
<path d="M503.3 424L503.3 443.8" stroke="#1e1e1e" stroke-width="0.96" fill="none"/>
<path d="M498.4 427.8L514.5 427.8" stroke="#1e1e1e" stroke-width="1.44" fill="none"/>
<path d="M517.2 430L517.2 501.5" stroke="#3a3a3a" stroke-width="0.75" fill="none"/>
<path d="M515.3 430L515.3 458" stroke="#3a3a3a" stroke-width="0.75" fill="none"/>
<path d="M509.5 441.5L509.5 471" stroke="#3a3a3a" stroke-width="0.75" fill="none"/>
<path d="M498.3 441.5L498.3 486" stroke="#3a3a3a" stroke-width="0.75" fill="none"/>
<path d="M493.6 405L493.6 501.5" stroke="#3a3a3a" stroke-width="0.75" fill="none"/>
<path d="M506.3 453.6L542.8 453.6" stroke="#3a3a3a" stroke-width="0.75" fill="none"/>
<path d="M515.3 453.6L510.7 452.25L510.7 454.95Z" fill="#3a3a3a"/>
<path d="M517.2 453.6L521.8 452.25L521.8 454.95Z" fill="#3a3a3a"/>
<text x="533.9" y="452.2" font-size="12" text-anchor="middle" letter-spacing="0.5" fill="#333" font-weight="normal">1.5</text>
<path d="M501 468.6L542.8 468.6" stroke="#3a3a3a" stroke-width="0.75" fill="none"/>
<path d="M509.5 468.6L504.9 467.25L504.9 469.95Z" fill="#3a3a3a"/>
<path d="M517.2 468.6L521.8 467.25L521.8 469.95Z" fill="#3a3a3a"/>
<text x="532.9" y="467.2" font-size="12" text-anchor="middle" letter-spacing="0.5" fill="#333" font-weight="normal">6</text>
<path d="M498.3 483.6L544.2 483.6" stroke="#3a3a3a" stroke-width="0.75" fill="none"/>
<path d="M498.3 483.6L502.9 482.25L502.9 484.95Z" fill="#3a3a3a"/>
<path d="M517.2 483.6L512.6 482.25L512.6 484.95Z" fill="#3a3a3a"/>
<text x="532.9" y="482.2" font-size="12" text-anchor="middle" letter-spacing="0.5" fill="#333" font-weight="normal">18</text>
<path d="M493.6 499.1L545.2 499.1" stroke="#3a3a3a" stroke-width="0.75" fill="none"/>
<path d="M493.6 499.1L498.2 497.75L498.2 500.45Z" fill="#3a3a3a"/>
<path d="M517.2 499.1L512.6 497.75L512.6 500.45Z" fill="#3a3a3a"/>
<text x="534.3" y="497.7" font-size="12" text-anchor="middle" letter-spacing="0.5" fill="#333" font-weight="normal">21.5</text>
<rect x="637" y="427.3" width="6" height="1.8" rx="0.9" fill="#1e1e1e"/>
<rect x="658.5" y="427.3" width="6" height="1.8" rx="0.9" fill="#1e1e1e"/>
<rect x="616.5" y="371" width="1.4" height="7" rx="0.7" fill="#1e1e1e"/>
<rect x="616.5" y="410" width="1.4" height="8" rx="0.7" fill="#1e1e1e"/>
<rect x="683.8" y="371" width="1.4" height="7" rx="0.7" fill="#1e1e1e"/>
<rect x="683.8" y="410" width="1.4" height="8" rx="0.7" fill="#1e1e1e"/>
<rect x="617.9" y="361.9" width="65.9" height="65.4" rx="1" stroke="#1e1e1e" stroke-width="1.6099999999999999" fill="#fff"/>
<path d="M650.6 359L650.6 444" stroke="#1e1e1e" stroke-width="0.96" fill="none"/>
<path d="M617.9 394.6L683.8 394.6" stroke="#1e1e1e" stroke-width="1.08" fill="none"/>
<path d="M617.9 377.9L683.8 377.9" stroke="#1e1e1e" stroke-width="0.96" fill="none"/>
<path d="M617.9 411.3L683.8 411.3" stroke="#1e1e1e" stroke-width="0.96" fill="none"/>
<circle cx="625.9" cy="379.7" r="3" stroke="#555" stroke-width="0.5" fill="none"/>
<circle cx="625.9" cy="379.7" r="1.5" stroke="#1e1e1e" stroke-width="0.8" fill="none"/>
<circle cx="625.9" cy="409" r="3" stroke="#555" stroke-width="0.5" fill="none"/>
<circle cx="625.9" cy="409" r="1.5" stroke="#1e1e1e" stroke-width="0.8" fill="none"/>
<circle cx="642.2" cy="379.7" r="3" stroke="#555" stroke-width="0.5" fill="none"/>
<circle cx="642.2" cy="379.7" r="1.5" stroke="#1e1e1e" stroke-width="0.8" fill="none"/>
<circle cx="642.2" cy="409" r="3" stroke="#555" stroke-width="0.5" fill="none"/>
<circle cx="642.2" cy="409" r="1.5" stroke="#1e1e1e" stroke-width="0.8" fill="none"/>
<circle cx="658.2" cy="379.7" r="3" stroke="#555" stroke-width="0.5" fill="none"/>
<circle cx="658.2" cy="379.7" r="1.5" stroke="#1e1e1e" stroke-width="0.8" fill="none"/>
<circle cx="658.2" cy="409" r="3" stroke="#555" stroke-width="0.5" fill="none"/>
<circle cx="658.2" cy="409" r="1.5" stroke="#1e1e1e" stroke-width="0.8" fill="none"/>
<circle cx="674.6" cy="379.7" r="3" stroke="#555" stroke-width="0.5" fill="none"/>
<circle cx="674.6" cy="379.7" r="1.5" stroke="#1e1e1e" stroke-width="0.8" fill="none"/>
<circle cx="674.6" cy="409" r="3" stroke="#555" stroke-width="0.5" fill="none"/>
<circle cx="674.6" cy="409" r="1.5" stroke="#1e1e1e" stroke-width="0.8" fill="none"/>
<circle cx="624.3" cy="367.2" r="3.3" stroke="#555" stroke-width="0.5" fill="none"/>
<circle cx="624.3" cy="367.2" r="1.81" stroke="#555" stroke-width="0.5" fill="none"/>
<path d="M619.5 367.2L629.1 367.2" stroke="#1e1e1e" stroke-width="0.96" fill="none"/>
<path d="M624.3 362.4L624.3 372" stroke="#1e1e1e" stroke-width="0.96" fill="none"/>
<circle cx="624.3" cy="421.4" r="3.3" stroke="#555" stroke-width="0.5" fill="none"/>
<circle cx="624.3" cy="421.4" r="1.81" stroke="#555" stroke-width="0.5" fill="none"/>
<path d="M619.5 421.4L629.1 421.4" stroke="#1e1e1e" stroke-width="0.96" fill="none"/>
<path d="M624.3 416.6L624.3 426.2" stroke="#1e1e1e" stroke-width="0.96" fill="none"/>
<circle cx="677.6" cy="367.2" r="3.3" stroke="#555" stroke-width="0.5" fill="none"/>
<circle cx="677.6" cy="367.2" r="1.81" stroke="#555" stroke-width="0.5" fill="none"/>
<path d="M672.8 367.2L682.4 367.2" stroke="#1e1e1e" stroke-width="0.96" fill="none"/>
<path d="M677.6 362.4L677.6 372" stroke="#1e1e1e" stroke-width="0.96" fill="none"/>
<circle cx="677.6" cy="421.4" r="3.3" stroke="#555" stroke-width="0.5" fill="none"/>
<circle cx="677.6" cy="421.4" r="1.81" stroke="#555" stroke-width="0.5" fill="none"/>
<path d="M672.8 421.4L682.4 421.4" stroke="#1e1e1e" stroke-width="0.96" fill="none"/>
<path d="M677.6 416.6L677.6 426.2" stroke="#1e1e1e" stroke-width="0.96" fill="none"/>
<rect x="683.8" y="384.4" width="18" height="19.6" rx="0" stroke="#1e1e1e" stroke-width="0.9199999999999999" fill="none"/>
<rect x="700.4" y="385" width="7.4" height="6" rx="1.2" stroke="#1e1e1e" stroke-width="1.035" fill="none"/>
<rect x="700.4" y="398" width="7.4" height="5.6" rx="1.2" stroke="#1e1e1e" stroke-width="1.035" fill="none"/>
<path d="M683.8 391L701.8 391" stroke="#1e1e1e" stroke-width="0.72" fill="none"/>
<path d="M683.8 398L701.8 398" stroke="#1e1e1e" stroke-width="0.72" fill="none"/>
<rect x="707.8" y="388.9" width="8" height="12.6" rx="0" stroke="#1e1e1e" stroke-width="0.8049999999999999" fill="none"/>
<rect x="715.8" y="387.7" width="13.8" height="14.5" rx="0" stroke="#1e1e1e" stroke-width="0.9199999999999999" fill="none"/>
<path d="M717.3 387.7L717.3 402.2" stroke="#1e1e1e" stroke-width="0.72" fill="none"/>
<rect x="729.6" y="386.6" width="13.7" height="15.6" rx="1" stroke="#1e1e1e" stroke-width="0.9199999999999999" fill="none"/>
<rect x="743.3" y="389.4" width="4.1" height="9.8" rx="0.8" stroke="#1e1e1e" stroke-width="0.8049999999999999" fill="none"/>
<path d="M743.3 394.6L751.3 394.6" stroke="#1e1e1e" stroke-width="0.96" fill="none"/>
<rect x="644.4" y="428.2" width="12.4" height="12.2" rx="0.8" stroke="#1e1e1e" stroke-width="0.9199999999999999" fill="#8a8a8a"/>
<path d="M646.17 428.7L646.17 439.9" stroke="#333" stroke-width="0.5" fill="none"/>
<path d="M647.94 428.7L647.94 439.9" stroke="#333" stroke-width="0.5" fill="none"/>
<path d="M649.71 428.7L649.71 439.9" stroke="#333" stroke-width="0.5" fill="none"/>
<path d="M651.49 428.7L651.49 439.9" stroke="#333" stroke-width="0.5" fill="none"/>
<path d="M653.26 428.7L653.26 439.9" stroke="#333" stroke-width="0.5" fill="none"/>
<path d="M655.03 428.7L655.03 439.9" stroke="#333" stroke-width="0.5" fill="none"/>
<path d="M597.5 367.2L621 367.2" stroke="#3a3a3a" stroke-width="0.75" fill="none"/>
<path d="M597.5 421.4L621 421.4" stroke="#3a3a3a" stroke-width="0.75" fill="none"/>
<path d="M601.9 367.2L601.9 421.4" stroke="#3a3a3a" stroke-width="0.75" fill="none"/>
<path d="M601.9 367.2L600.55 371.8L603.25 371.8Z" fill="#3a3a3a"/>
<path d="M601.9 421.4L600.55 416.8L603.25 416.8Z" fill="#3a3a3a"/>
<text x="600.6" y="394.3" font-size="12" text-anchor="middle" letter-spacing="0.5" fill="#333" font-weight="normal" transform="rotate(-90 600.6 394.3)">50</text>
<path d="M623 424L623 471" stroke="#3a3a3a" stroke-width="0.75" fill="none"/>
<path d="M678 424L678 471" stroke="#3a3a3a" stroke-width="0.75" fill="none"/>
<path d="M623 468.4L678 468.4" stroke="#3a3a3a" stroke-width="0.75" fill="none"/>
<path d="M623 468.4L627.6 467.05L627.6 469.75Z" fill="#3a3a3a"/>
<path d="M678 468.4L673.4 467.05L673.4 469.75Z" fill="#3a3a3a"/>
<text x="650.5" y="466.9" font-size="12" text-anchor="middle" letter-spacing="0.5" fill="#333" font-weight="normal">50</text>
<path d="M678.5 422.5L694 484.2" stroke="#3a3a3a" stroke-width="0.75" fill="none"/>
<path d="M614 484.2L694 484.2" stroke="#3a3a3a" stroke-width="0.75" fill="none"/>
<text x="622" y="482.2" font-size="11" text-anchor="start" letter-spacing="0.8" fill="#333" font-weight="normal">4–Φ4.5贯穿</text>
<text x="620.4" y="496.3" font-size="11" text-anchor="start" letter-spacing="0.85" fill="#333" font-weight="normal">沉头Φ8深4.5</text>
<rect x="294.7" y="603.6" width="16.1" height="19.6" rx="0" stroke="#1e1e1e" stroke-width="0.9199999999999999" fill="#fff"/>
<rect x="291.8" y="607.5" width="2.9" height="3.9" rx="0.8" stroke="#1e1e1e" stroke-width="0.8049999999999999" fill="#fff"/>
<rect x="291.8" y="615.3" width="2.9" height="3.9" rx="0.8" stroke="#1e1e1e" stroke-width="0.8049999999999999" fill="#fff"/>
<path d="M295.7 623.2L295.7 636.4" stroke="#1e1e1e" stroke-width="0.84" fill="none"/>
<path d="M299.6 623.2L299.6 636.4" stroke="#1e1e1e" stroke-width="0.84" fill="none"/>
<rect x="296.3" y="624" width="2.7" height="4" rx="0" stroke="#1e1e1e" stroke-width="0.69" fill="none"/>
<rect x="292.3" y="652.6" width="12.2" height="21.6" rx="0" stroke="#1e1e1e" stroke-width="0.9199999999999999" fill="#fff"/>
<path d="M292.3 654.2L304.5 654.2" stroke="#1e1e1e" stroke-width="0.72" fill="none"/>
<path d="M298.4 634.6L298.4 696.6" stroke="#1e1e1e" stroke-width="0.96" fill="none"/>
<rect x="291" y="674.2" width="14.8" height="14.8" rx="2" stroke="#1e1e1e" stroke-width="1.035" fill="#c4c4c4"/>
<path d="M292.64 675L292.64 688.2" stroke="#3a3a3a" stroke-width="0.45" fill="none"/>
<path d="M294.29 675L294.29 688.2" stroke="#3a3a3a" stroke-width="0.45" fill="none"/>
<path d="M295.93 675L295.93 688.2" stroke="#3a3a3a" stroke-width="0.45" fill="none"/>
<path d="M297.58 675L297.58 688.2" stroke="#3a3a3a" stroke-width="0.45" fill="none"/>
<path d="M299.22 675L299.22 688.2" stroke="#3a3a3a" stroke-width="0.45" fill="none"/>
<path d="M300.87 675L300.87 688.2" stroke="#3a3a3a" stroke-width="0.45" fill="none"/>
<path d="M302.51 675L302.51 688.2" stroke="#3a3a3a" stroke-width="0.45" fill="none"/>
<path d="M304.16 675L304.16 688.2" stroke="#3a3a3a" stroke-width="0.45" fill="none"/>
<path d="M291.6 676.05L305.2 676.05" stroke="#3a3a3a" stroke-width="0.4" fill="none"/>
<path d="M291.6 677.9L305.2 677.9" stroke="#3a3a3a" stroke-width="0.4" fill="none"/>
<path d="M291.6 679.75L305.2 679.75" stroke="#3a3a3a" stroke-width="0.4" fill="none"/>
<path d="M291.6 681.6L305.2 681.6" stroke="#3a3a3a" stroke-width="0.4" fill="none"/>
<path d="M291.6 683.45L305.2 683.45" stroke="#3a3a3a" stroke-width="0.4" fill="none"/>
<path d="M291.6 685.3L305.2 685.3" stroke="#3a3a3a" stroke-width="0.4" fill="none"/>
<path d="M291.6 687.15L305.2 687.15" stroke="#3a3a3a" stroke-width="0.4" fill="none"/>
<rect x="293" y="689" width="10.8" height="3.8" rx="0.8" stroke="#1e1e1e" stroke-width="0.9199999999999999" fill="#fff"/>
<rect x="288.8" y="636.4" width="20.6" height="16.2" rx="0" stroke="#1e1e1e" stroke-width="1.035" fill="#fff"/>
<path d="M302.4 643.8L305 641.98L307.6 643.8L305 645.62Z" fill="#1e1e1e"/>
<path d="M305 640.42L305 647.18" stroke="#1e1e1e" stroke-width="0.84" fill="none"/>
<path d="M301 643.8L309 643.8" stroke="#1e1e1e" stroke-width="0.84" fill="none"/>
<rect x="318.8" y="595.9" width="11.5" height="1.8" rx="0.9" fill="#1e1e1e"/>
<rect x="354.3" y="595.9" width="12" height="1.8" rx="0.9" fill="#1e1e1e"/>
<rect x="318.8" y="662.8" width="11.5" height="1.8" rx="0.9" fill="#1e1e1e"/>
<rect x="354.3" y="662.8" width="12" height="1.8" rx="0.9" fill="#1e1e1e"/>
<rect x="310.8" y="597.7" width="65.7" height="65.1" rx="1" stroke="#1e1e1e" stroke-width="1.6099999999999999" fill="#fff"/>
<path d="M343.3 595.8L343.3 725.5" stroke="#1e1e1e" stroke-width="0.96" fill="none"/>
<path d="M308.4 630.5L392.7 630.5" stroke="#1e1e1e" stroke-width="1.08" fill="none"/>
<circle cx="321.8" cy="605.6" r="2.9" stroke="#555" stroke-width="0.5" fill="none"/>
<circle cx="321.8" cy="605.6" r="1.4" stroke="#1e1e1e" stroke-width="0.8" fill="none"/>
<circle cx="321.8" cy="621.9" r="2.9" stroke="#555" stroke-width="0.5" fill="none"/>
<circle cx="321.8" cy="621.9" r="1.4" stroke="#1e1e1e" stroke-width="0.8" fill="none"/>
<circle cx="321.8" cy="638.3" r="2.9" stroke="#555" stroke-width="0.5" fill="none"/>
<circle cx="321.8" cy="638.3" r="1.4" stroke="#1e1e1e" stroke-width="0.8" fill="none"/>
<circle cx="321.8" cy="655" r="2.9" stroke="#555" stroke-width="0.5" fill="none"/>
<circle cx="321.8" cy="655" r="1.4" stroke="#1e1e1e" stroke-width="0.8" fill="none"/>
<circle cx="365.3" cy="605.6" r="2.9" stroke="#555" stroke-width="0.5" fill="none"/>
<circle cx="365.3" cy="605.6" r="1.4" stroke="#1e1e1e" stroke-width="0.8" fill="none"/>
<circle cx="365.3" cy="621.9" r="2.9" stroke="#555" stroke-width="0.5" fill="none"/>
<circle cx="365.3" cy="621.9" r="1.4" stroke="#1e1e1e" stroke-width="0.8" fill="none"/>
<circle cx="365.3" cy="638.3" r="2.9" stroke="#555" stroke-width="0.5" fill="none"/>
<circle cx="365.3" cy="638.3" r="1.4" stroke="#1e1e1e" stroke-width="0.8" fill="none"/>
<circle cx="365.3" cy="655" r="2.9" stroke="#555" stroke-width="0.5" fill="none"/>
<circle cx="365.3" cy="655" r="1.4" stroke="#1e1e1e" stroke-width="0.8" fill="none"/>
<path d="M314.1 604.2L316.3 602.66L318.5 604.2L316.3 605.74Z" fill="#1e1e1e"/>
<path d="M316.3 601.34L316.3 607.06" stroke="#1e1e1e" stroke-width="0.84" fill="none"/>
<path d="M314.1 630.5L316.3 628.96L318.5 630.5L316.3 632.04Z" fill="#1e1e1e"/>
<path d="M316.3 627.64L316.3 633.36" stroke="#1e1e1e" stroke-width="0.84" fill="none"/>
<path d="M314.1 656L316.3 654.46L318.5 656L316.3 657.54Z" fill="#1e1e1e"/>
<path d="M316.3 653.14L316.3 658.86" stroke="#1e1e1e" stroke-width="0.84" fill="none"/>
<path d="M341.1 604.2L343.3 602.66L345.5 604.2L343.3 605.74Z" fill="#1e1e1e"/>
<path d="M343.3 601.34L343.3 607.06" stroke="#1e1e1e" stroke-width="0.84" fill="none"/>
<path d="M341.1 630.5L343.3 628.96L345.5 630.5L343.3 632.04Z" fill="#1e1e1e"/>
<path d="M343.3 627.64L343.3 633.36" stroke="#1e1e1e" stroke-width="0.84" fill="none"/>
<path d="M341.1 656L343.3 654.46L345.5 656L343.3 657.54Z" fill="#1e1e1e"/>
<path d="M343.3 653.14L343.3 658.86" stroke="#1e1e1e" stroke-width="0.84" fill="none"/>
<path d="M368 604.2L370.2 602.66L372.4 604.2L370.2 605.74Z" fill="#1e1e1e"/>
<path d="M370.2 601.34L370.2 607.06" stroke="#1e1e1e" stroke-width="0.84" fill="none"/>
<path d="M368 630.5L370.2 628.96L372.4 630.5L370.2 632.04Z" fill="#1e1e1e"/>
<path d="M370.2 627.64L370.2 633.36" stroke="#1e1e1e" stroke-width="0.84" fill="none"/>
<path d="M368 656L370.2 654.46L372.4 656L370.2 657.54Z" fill="#1e1e1e"/>
<path d="M370.2 653.14L370.2 658.86" stroke="#1e1e1e" stroke-width="0.84" fill="none"/>
<rect x="376.5" y="619" width="1.4" height="23" rx="0.7" fill="#1e1e1e"/>
<rect x="378" y="625.2" width="10.8" height="11.2" rx="0.8" stroke="#1e1e1e" stroke-width="0.9199999999999999" fill="#8a8a8a"/>
<path d="M379.8 625.7L379.8 635.9" stroke="#333" stroke-width="0.5" fill="none"/>
<path d="M381.6 625.7L381.6 635.9" stroke="#333" stroke-width="0.5" fill="none"/>
<path d="M383.4 625.7L383.4 635.9" stroke="#333" stroke-width="0.5" fill="none"/>
<path d="M385.2 625.7L385.2 635.9" stroke="#333" stroke-width="0.5" fill="none"/>
<path d="M387 625.7L387 635.9" stroke="#333" stroke-width="0.5" fill="none"/>
<path d="M315.5 659L315.5 726" stroke="#3a3a3a" stroke-width="0.75" fill="none"/>
<path d="M370 659L370 726" stroke="#3a3a3a" stroke-width="0.75" fill="none"/>
<path d="M315.5 723.6L343.3 723.6" stroke="#3a3a3a" stroke-width="0.75" fill="none"/>
<path d="M315.5 723.6L320.1 722.25L320.1 724.95Z" fill="#3a3a3a"/>
<path d="M343.3 723.6L338.7 722.25L338.7 724.95Z" fill="#3a3a3a"/>
<text x="329.4" y="722.1" font-size="12" text-anchor="middle" letter-spacing="0.5" fill="#333" font-weight="normal">25</text>
<path d="M343.3 723.6L370 723.6" stroke="#3a3a3a" stroke-width="0.75" fill="none"/>
<path d="M343.3 723.6L347.9 722.25L347.9 724.95Z" fill="#3a3a3a"/>
<path d="M370 723.6L365.4 722.25L365.4 724.95Z" fill="#3a3a3a"/>
<text x="356.65" y="722.1" font-size="12" text-anchor="middle" letter-spacing="0.5" fill="#333" font-weight="normal">25</text>
<path d="M289.3 653L289.3 739.5" stroke="#3a3a3a" stroke-width="0.75" fill="none"/>
<path d="M310.8 665L310.8 739.5" stroke="#3a3a3a" stroke-width="0.75" fill="none"/>
<path d="M376.5 665L376.5 739.5" stroke="#3a3a3a" stroke-width="0.75" fill="none"/>
<path d="M389.6 637L389.6 739.5" stroke="#3a3a3a" stroke-width="0.75" fill="none"/>
<path d="M289.3 737.2L310.8 737.2" stroke="#3a3a3a" stroke-width="0.75" fill="none"/>
<path d="M289.3 737.2L293.9 735.85L293.9 738.55Z" fill="#3a3a3a"/>
<path d="M310.8 737.2L306.2 735.85L306.2 738.55Z" fill="#3a3a3a"/>
<text x="300" y="735.7" font-size="12" text-anchor="middle" letter-spacing="0.5" fill="#333" font-weight="normal">20</text>
<path d="M310.8 737.2L376.5 737.2" stroke="#3a3a3a" stroke-width="0.75" fill="none"/>
<path d="M310.8 737.2L315.4 735.85L315.4 738.55Z" fill="#3a3a3a"/>
<path d="M376.5 737.2L371.9 735.85L371.9 738.55Z" fill="#3a3a3a"/>
<text x="343.65" y="735.7" font-size="12" text-anchor="middle" letter-spacing="0.5" fill="#333" font-weight="normal">60</text>
<path d="M376.5 737.2L420.6 737.2" stroke="#3a3a3a" stroke-width="0.75" fill="none"/>
<path d="M376.5 737.2L381.1 735.85L381.1 738.55Z" fill="#3a3a3a"/>
<path d="M389.6 737.2L385 735.85L385 738.55Z" fill="#3a3a3a"/>
<text x="406.8" y="735.8" font-size="12" text-anchor="middle" letter-spacing="0.5" fill="#333" font-weight="normal">12.6</text>
<path d="M377.5 597.7L423 597.7" stroke="#3a3a3a" stroke-width="0.75" fill="none"/>
<path d="M372 603L405 603" stroke="#3a3a3a" stroke-width="0.75" fill="none"/>
<path d="M394 630.5L405 630.5" stroke="#3a3a3a" stroke-width="0.75" fill="none"/>
<path d="M372 656.7L405 656.7" stroke="#3a3a3a" stroke-width="0.75" fill="none"/>
<path d="M377.5 662.8L423 662.8" stroke="#3a3a3a" stroke-width="0.75" fill="none"/>
<path d="M296 693L423 693" stroke="#3a3a3a" stroke-width="0.75" fill="none"/>
<path d="M402.5 603L402.5 630.5" stroke="#3a3a3a" stroke-width="0.75" fill="none"/>
<path d="M402.5 603L401.15 607.6L403.85 607.6Z" fill="#3a3a3a"/>
<path d="M402.5 630.5L401.15 625.9L403.85 625.9Z" fill="#3a3a3a"/>
<text x="401.2" y="616.75" font-size="12" text-anchor="middle" letter-spacing="0.5" fill="#333" font-weight="normal" transform="rotate(-90 401.2 616.75)">25</text>
<path d="M402.5 630.5L402.5 656.7" stroke="#3a3a3a" stroke-width="0.75" fill="none"/>
<path d="M402.5 630.5L401.15 635.1L403.85 635.1Z" fill="#3a3a3a"/>
<path d="M402.5 656.7L401.15 652.1L403.85 652.1Z" fill="#3a3a3a"/>
<text x="401.2" y="643.6" font-size="12" text-anchor="middle" letter-spacing="0.5" fill="#333" font-weight="normal" transform="rotate(-90 401.2 643.6)">25</text>
<path d="M417.8 597.7L417.8 662.8" stroke="#3a3a3a" stroke-width="0.75" fill="none"/>
<path d="M417.8 597.7L416.45 602.3L419.15 602.3Z" fill="#3a3a3a"/>
<path d="M417.8 662.8L416.45 658.2L419.15 658.2Z" fill="#3a3a3a"/>
<text x="416.5" y="630.25" font-size="12" text-anchor="middle" letter-spacing="0.5" fill="#333" font-weight="normal" transform="rotate(-90 416.5 630.25)">60</text>
<path d="M417.8 662.8L417.8 693" stroke="#3a3a3a" stroke-width="0.75" fill="none"/>
<path d="M417.8 662.8L416.45 667.4L419.15 667.4Z" fill="#3a3a3a"/>
<path d="M417.8 693L416.45 688.4L419.15 688.4Z" fill="#3a3a3a"/>
<text x="416.5" y="677.9" font-size="12" text-anchor="middle" letter-spacing="0.5" fill="#333" font-weight="normal" transform="rotate(-90 416.5 677.9)">28</text>
<path d="M370.5 657L396.7 724.3" stroke="#3a3a3a" stroke-width="0.75" fill="none"/>
<path d="M396.7 724.3L453 724.3" stroke="#3a3a3a" stroke-width="0.75" fill="none"/>
<text x="399" y="721.7" font-size="11" text-anchor="start" letter-spacing="1" fill="#333" font-weight="normal">9–M4深5</text>
<rect x="499.2" y="653.5" width="12.2" height="21.6" rx="0" stroke="#1e1e1e" stroke-width="0.9199999999999999" fill="#fff"/>
<path d="M499.2 655.1L511.4 655.1" stroke="#1e1e1e" stroke-width="0.72" fill="none"/>
<path d="M505.3 635.5L505.3 697.5" stroke="#1e1e1e" stroke-width="0.96" fill="none"/>
<rect x="497.9" y="675.1" width="14.8" height="14.8" rx="2" stroke="#1e1e1e" stroke-width="1.035" fill="#c4c4c4"/>
<path d="M499.54 675.9L499.54 689.1" stroke="#3a3a3a" stroke-width="0.45" fill="none"/>
<path d="M501.19 675.9L501.19 689.1" stroke="#3a3a3a" stroke-width="0.45" fill="none"/>
<path d="M502.83 675.9L502.83 689.1" stroke="#3a3a3a" stroke-width="0.45" fill="none"/>
<path d="M504.48 675.9L504.48 689.1" stroke="#3a3a3a" stroke-width="0.45" fill="none"/>
<path d="M506.12 675.9L506.12 689.1" stroke="#3a3a3a" stroke-width="0.45" fill="none"/>
<path d="M507.77 675.9L507.77 689.1" stroke="#3a3a3a" stroke-width="0.45" fill="none"/>
<path d="M509.41 675.9L509.41 689.1" stroke="#3a3a3a" stroke-width="0.45" fill="none"/>
<path d="M511.06 675.9L511.06 689.1" stroke="#3a3a3a" stroke-width="0.45" fill="none"/>
<path d="M498.5 676.95L512.1 676.95" stroke="#3a3a3a" stroke-width="0.4" fill="none"/>
<path d="M498.5 678.8L512.1 678.8" stroke="#3a3a3a" stroke-width="0.4" fill="none"/>
<path d="M498.5 680.65L512.1 680.65" stroke="#3a3a3a" stroke-width="0.4" fill="none"/>
<path d="M498.5 682.5L512.1 682.5" stroke="#3a3a3a" stroke-width="0.4" fill="none"/>
<path d="M498.5 684.35L512.1 684.35" stroke="#3a3a3a" stroke-width="0.4" fill="none"/>
<path d="M498.5 686.2L512.1 686.2" stroke="#3a3a3a" stroke-width="0.4" fill="none"/>
<path d="M498.5 688.05L512.1 688.05" stroke="#3a3a3a" stroke-width="0.4" fill="none"/>
<rect x="499.9" y="689.9" width="10.8" height="3.8" rx="0.8" stroke="#1e1e1e" stroke-width="0.9199999999999999" fill="#fff"/>
<path d="M498.4 597.7L516.7 597.7L517.7 598.7L517.7 661.2L516.7 662.2L498.4 662.2L497.4 661.2L497.4 598.7Z" stroke="#1e1e1e" stroke-width="1.4" fill="#fff" stroke-linejoin="round"/>
<rect x="503.5" y="595.9" width="6" height="1.8" rx="0.9" fill="#1e1e1e"/>
<rect x="503.5" y="662.2" width="5" height="1.8" rx="0.9" fill="#1e1e1e"/>
<path d="M510.2 597.7L510.2 616.8" stroke="#1e1e1e" stroke-width="1.08" fill="none"/>
<path d="M510.2 643.9L510.2 662.2" stroke="#1e1e1e" stroke-width="1.08" fill="none"/>
<path d="M514.9 597.7L514.9 662.2" stroke="#1e1e1e" stroke-width="0.84" fill="none"/>
<path d="M510.2 600.5L514.9 600.5" stroke="#1e1e1e" stroke-width="0.84" fill="none"/>
<path d="M510.2 659.5L514.9 659.5" stroke="#1e1e1e" stroke-width="0.84" fill="none"/>
<path d="M508 603.3L521 603.3" stroke="#1e1e1e" stroke-width="1.08" fill="none"/>
<path d="M508 657.6L521 657.6" stroke="#1e1e1e" stroke-width="1.08" fill="none"/>
<path d="M497.4 616.8L510.2 616.8" stroke="#555" stroke-width="0.6" fill="none"/>
<path d="M497.4 643.9L510.2 643.9" stroke="#555" stroke-width="0.6" fill="none"/>
<path d="M510.2 616.8L510.2 643.9" stroke="#555" stroke-width="0.6" fill="none"/>
<path d="M499 630.4L503.6 622.5L508.2 630.4L503.6 638.3Z" stroke="#1e1e1e" stroke-width="0.7" fill="none" stroke-linejoin="round"/>
<ellipse cx="503.6" cy="622.8" rx="1.6" ry="2.6" fill="#fff" stroke="#1e1e1e" stroke-width="0.7"/>
<ellipse cx="503.6" cy="638" rx="1.6" ry="2.6" fill="#fff" stroke="#1e1e1e" stroke-width="0.7"/>
<path d="M495.8 630.4L511.8 630.4" stroke="#1e1e1e" stroke-width="1.08" fill="none"/>
<path d="M503.6 621L503.6 640" stroke="#1e1e1e" stroke-width="1.08" fill="none"/>
<path d="M510.5 621L512.9 619.32L515.3 621L512.9 622.68Z" fill="#1e1e1e"/>
<path d="M512.9 617.88L512.9 624.12" stroke="#1e1e1e" stroke-width="0.84" fill="none"/>
<path d="M509.5 621L516 621" stroke="#1e1e1e" stroke-width="0.84" fill="none"/>
<path d="M510.5 640L512.9 638.32L515.3 640L512.9 641.68Z" fill="#1e1e1e"/>
<path d="M512.9 636.88L512.9 643.12" stroke="#1e1e1e" stroke-width="0.84" fill="none"/>
<path d="M509.5 640L516 640" stroke="#1e1e1e" stroke-width="0.84" fill="none"/>
<path d="M517.4 664L517.4 741.5" stroke="#3a3a3a" stroke-width="0.75" fill="none"/>
<path d="M515.3 664L515.3 713" stroke="#3a3a3a" stroke-width="0.75" fill="none"/>
<path d="M510.2 664L510.2 727.5" stroke="#3a3a3a" stroke-width="0.75" fill="none"/>
<path d="M497.4 664L497.4 741.5" stroke="#3a3a3a" stroke-width="0.75" fill="none"/>
<path d="M507.3 709.5L542.8 709.5" stroke="#3a3a3a" stroke-width="0.75" fill="none"/>
<path d="M515.3 709.5L510.7 708.15L510.7 710.85Z" fill="#3a3a3a"/>
<path d="M517.4 709.5L522 708.15L522 710.85Z" fill="#3a3a3a"/>
<text x="533" y="708.2" font-size="12" text-anchor="middle" letter-spacing="0.5" fill="#333" font-weight="normal">1.5</text>
<path d="M501.2 724.2L542.8 724.2" stroke="#3a3a3a" stroke-width="0.75" fill="none"/>
<path d="M510.2 724.2L505.6 722.85L505.6 725.55Z" fill="#3a3a3a"/>
<path d="M517.4 724.2L522 722.85L522 725.55Z" fill="#3a3a3a"/>
<text x="533" y="722.8" font-size="12" text-anchor="middle" letter-spacing="0.5" fill="#333" font-weight="normal">6.5</text>
<path d="M497.4 738.8L517.4 738.8" stroke="#3a3a3a" stroke-width="0.75" fill="none"/>
<path d="M497.4 738.8L502 737.45L502 740.15Z" fill="#3a3a3a"/>
<path d="M517.4 738.8L512.8 737.45L512.8 740.15Z" fill="#3a3a3a"/>
<text x="507.9" y="737.4" font-size="12" text-anchor="middle" letter-spacing="0.5" fill="#333" font-weight="normal">18</text>
<rect x="694.8" y="605.1" width="17.6" height="17.6" rx="1" stroke="#1e1e1e" stroke-width="0.9199999999999999" fill="#fff"/>
<rect x="712.4" y="607.5" width="2.8" height="4.8" rx="0.8" stroke="#1e1e1e" stroke-width="0.8049999999999999" fill="#fff"/>
<rect x="712.4" y="615.5" width="2.8" height="4.8" rx="0.8" stroke="#1e1e1e" stroke-width="0.8049999999999999" fill="#fff"/>
<path d="M706 622.7L706 636.5" stroke="#1e1e1e" stroke-width="0.84" fill="none"/>
<path d="M710 622.7L710 636.5" stroke="#1e1e1e" stroke-width="0.84" fill="none"/>
<rect x="706.6" y="624" width="2.8" height="4" rx="0" stroke="#1e1e1e" stroke-width="0.69" fill="none"/>
<rect x="702.3" y="653.2" width="12.2" height="21.6" rx="0" stroke="#1e1e1e" stroke-width="0.9199999999999999" fill="#fff"/>
<path d="M702.3 654.8L714.5 654.8" stroke="#1e1e1e" stroke-width="0.72" fill="none"/>
<path d="M708.4 635.2L708.4 697.2" stroke="#1e1e1e" stroke-width="0.96" fill="none"/>
<rect x="701" y="674.8" width="14.8" height="14.8" rx="2" stroke="#1e1e1e" stroke-width="1.035" fill="#c4c4c4"/>
<path d="M702.64 675.6L702.64 688.8" stroke="#3a3a3a" stroke-width="0.45" fill="none"/>
<path d="M704.29 675.6L704.29 688.8" stroke="#3a3a3a" stroke-width="0.45" fill="none"/>
<path d="M705.93 675.6L705.93 688.8" stroke="#3a3a3a" stroke-width="0.45" fill="none"/>
<path d="M707.58 675.6L707.58 688.8" stroke="#3a3a3a" stroke-width="0.45" fill="none"/>
<path d="M709.22 675.6L709.22 688.8" stroke="#3a3a3a" stroke-width="0.45" fill="none"/>
<path d="M710.87 675.6L710.87 688.8" stroke="#3a3a3a" stroke-width="0.45" fill="none"/>
<path d="M712.51 675.6L712.51 688.8" stroke="#3a3a3a" stroke-width="0.45" fill="none"/>
<path d="M714.16 675.6L714.16 688.8" stroke="#3a3a3a" stroke-width="0.45" fill="none"/>
<path d="M701.6 676.65L715.2 676.65" stroke="#3a3a3a" stroke-width="0.4" fill="none"/>
<path d="M701.6 678.5L715.2 678.5" stroke="#3a3a3a" stroke-width="0.4" fill="none"/>
<path d="M701.6 680.35L715.2 680.35" stroke="#3a3a3a" stroke-width="0.4" fill="none"/>
<path d="M701.6 682.2L715.2 682.2" stroke="#3a3a3a" stroke-width="0.4" fill="none"/>
<path d="M701.6 684.05L715.2 684.05" stroke="#3a3a3a" stroke-width="0.4" fill="none"/>
<path d="M701.6 685.9L715.2 685.9" stroke="#3a3a3a" stroke-width="0.4" fill="none"/>
<path d="M701.6 687.75L715.2 687.75" stroke="#3a3a3a" stroke-width="0.4" fill="none"/>
<rect x="703" y="689.6" width="10.8" height="3.8" rx="0.8" stroke="#1e1e1e" stroke-width="0.9199999999999999" fill="#fff"/>
<rect x="695.7" y="636.5" width="20.8" height="16.7" rx="0" stroke="#1e1e1e" stroke-width="1.035" fill="#fff"/>
<path d="M698.3 644.5L700.5 642.96L702.7 644.5L700.5 646.04Z" fill="#1e1e1e"/>
<path d="M700.5 641.64L700.5 647.36" stroke="#1e1e1e" stroke-width="0.84" fill="none"/>
<rect x="637.3" y="595.5" width="11.5" height="1.8" rx="0.9" fill="#1e1e1e"/>
<rect x="672.8" y="595.5" width="12" height="1.8" rx="0.9" fill="#1e1e1e"/>
<rect x="637.3" y="662.5" width="11.5" height="1.8" rx="0.9" fill="#1e1e1e"/>
<rect x="672.8" y="662.5" width="12" height="1.8" rx="0.9" fill="#1e1e1e"/>
<rect x="629.3" y="597.3" width="65.5" height="65.2" rx="1" stroke="#1e1e1e" stroke-width="1.6099999999999999" fill="#fff"/>
<path d="M661.8 595.5L661.8 664.5" stroke="#1e1e1e" stroke-width="0.96" fill="none"/>
<path d="M629.3 630.2L694.8 630.2" stroke="#1e1e1e" stroke-width="1.08" fill="none"/>
<path d="M645.7 597.3L645.7 662.5" stroke="#1e1e1e" stroke-width="0.96" fill="none"/>
<path d="M678.5 597.3L678.5 662.5" stroke="#1e1e1e" stroke-width="0.96" fill="none"/>
<circle cx="648" cy="605.8" r="2.9" stroke="#555" stroke-width="0.5" fill="none"/>
<circle cx="648" cy="605.8" r="1.4" stroke="#1e1e1e" stroke-width="0.8" fill="none"/>
<path d="M644 605.8L652 605.8" stroke="#1e1e1e" stroke-width="0.72" fill="none"/>
<path d="M648 601.8L648 609.8" stroke="#1e1e1e" stroke-width="0.72" fill="none"/>
<circle cx="648" cy="621.3" r="2.9" stroke="#555" stroke-width="0.5" fill="none"/>
<circle cx="648" cy="621.3" r="1.4" stroke="#1e1e1e" stroke-width="0.8" fill="none"/>
<path d="M644 621.3L652 621.3" stroke="#1e1e1e" stroke-width="0.72" fill="none"/>
<path d="M648 617.3L648 625.3" stroke="#1e1e1e" stroke-width="0.72" fill="none"/>
<circle cx="648" cy="639" r="2.9" stroke="#555" stroke-width="0.5" fill="none"/>
<circle cx="648" cy="639" r="1.4" stroke="#1e1e1e" stroke-width="0.8" fill="none"/>
<path d="M644 639L652 639" stroke="#1e1e1e" stroke-width="0.72" fill="none"/>
<path d="M648 635L648 643" stroke="#1e1e1e" stroke-width="0.72" fill="none"/>
<circle cx="648" cy="654.8" r="2.9" stroke="#555" stroke-width="0.5" fill="none"/>
<circle cx="648" cy="654.8" r="1.4" stroke="#1e1e1e" stroke-width="0.8" fill="none"/>
<path d="M644 654.8L652 654.8" stroke="#1e1e1e" stroke-width="0.72" fill="none"/>
<path d="M648 650.8L648 658.8" stroke="#1e1e1e" stroke-width="0.72" fill="none"/>
<circle cx="675.5" cy="605.8" r="2.9" stroke="#555" stroke-width="0.5" fill="none"/>
<circle cx="675.5" cy="605.8" r="1.4" stroke="#1e1e1e" stroke-width="0.8" fill="none"/>
<path d="M671.5 605.8L679.5 605.8" stroke="#1e1e1e" stroke-width="0.72" fill="none"/>
<path d="M675.5 601.8L675.5 609.8" stroke="#1e1e1e" stroke-width="0.72" fill="none"/>
<circle cx="675.5" cy="621.3" r="2.9" stroke="#555" stroke-width="0.5" fill="none"/>
<circle cx="675.5" cy="621.3" r="1.4" stroke="#1e1e1e" stroke-width="0.8" fill="none"/>
<path d="M671.5 621.3L679.5 621.3" stroke="#1e1e1e" stroke-width="0.72" fill="none"/>
<path d="M675.5 617.3L675.5 625.3" stroke="#1e1e1e" stroke-width="0.72" fill="none"/>
<circle cx="675.5" cy="639" r="2.9" stroke="#555" stroke-width="0.5" fill="none"/>
<circle cx="675.5" cy="639" r="1.4" stroke="#1e1e1e" stroke-width="0.8" fill="none"/>
<path d="M671.5 639L679.5 639" stroke="#1e1e1e" stroke-width="0.72" fill="none"/>
<path d="M675.5 635L675.5 643" stroke="#1e1e1e" stroke-width="0.72" fill="none"/>
<circle cx="675.5" cy="654.8" r="2.9" stroke="#555" stroke-width="0.5" fill="none"/>
<circle cx="675.5" cy="654.8" r="1.4" stroke="#1e1e1e" stroke-width="0.8" fill="none"/>
<path d="M671.5 654.8L679.5 654.8" stroke="#1e1e1e" stroke-width="0.72" fill="none"/>
<path d="M675.5 650.8L675.5 658.8" stroke="#1e1e1e" stroke-width="0.72" fill="none"/>
<circle cx="635.3" cy="603.6" r="3.3" stroke="#555" stroke-width="0.5" fill="none"/>
<circle cx="635.3" cy="603.6" r="1.81" stroke="#555" stroke-width="0.5" fill="none"/>
<path d="M630.5 603.6L640.1 603.6" stroke="#1e1e1e" stroke-width="0.96" fill="none"/>
<path d="M635.3 598.8L635.3 608.4" stroke="#1e1e1e" stroke-width="0.96" fill="none"/>
<circle cx="635.3" cy="656.8" r="3.3" stroke="#555" stroke-width="0.5" fill="none"/>
<circle cx="635.3" cy="656.8" r="1.81" stroke="#555" stroke-width="0.5" fill="none"/>
<path d="M630.5 656.8L640.1 656.8" stroke="#1e1e1e" stroke-width="0.96" fill="none"/>
<path d="M635.3 652L635.3 661.6" stroke="#1e1e1e" stroke-width="0.96" fill="none"/>
<circle cx="688.7" cy="603.6" r="3.3" stroke="#555" stroke-width="0.5" fill="none"/>
<circle cx="688.7" cy="603.6" r="1.81" stroke="#555" stroke-width="0.5" fill="none"/>
<path d="M683.9 603.6L693.5 603.6" stroke="#1e1e1e" stroke-width="0.96" fill="none"/>
<path d="M688.7 598.8L688.7 608.4" stroke="#1e1e1e" stroke-width="0.96" fill="none"/>
<circle cx="688.7" cy="656.8" r="3.3" stroke="#555" stroke-width="0.5" fill="none"/>
<circle cx="688.7" cy="656.8" r="1.81" stroke="#555" stroke-width="0.5" fill="none"/>
<path d="M683.9 656.8L693.5 656.8" stroke="#1e1e1e" stroke-width="0.96" fill="none"/>
<path d="M688.7 652L688.7 661.6" stroke="#1e1e1e" stroke-width="0.96" fill="none"/>
<rect x="627.9" y="619" width="1.4" height="23" rx="0.7" fill="#1e1e1e"/>
<rect x="615.5" y="625.8" width="11.8" height="9" rx="0.8" stroke="#1e1e1e" stroke-width="0.9199999999999999" fill="#8a8a8a"/>
<path d="M617.19 626.3L617.19 634.3" stroke="#333" stroke-width="0.5" fill="none"/>
<path d="M618.87 626.3L618.87 634.3" stroke="#333" stroke-width="0.5" fill="none"/>
<path d="M620.56 626.3L620.56 634.3" stroke="#333" stroke-width="0.5" fill="none"/>
<path d="M622.24 626.3L622.24 634.3" stroke="#333" stroke-width="0.5" fill="none"/>
<path d="M623.93 626.3L623.93 634.3" stroke="#333" stroke-width="0.5" fill="none"/>
<path d="M625.61 626.3L625.61 634.3" stroke="#333" stroke-width="0.5" fill="none"/>
<path d="M611 630.2L629 630.2" stroke="#1e1e1e" stroke-width="0.96" fill="none"/>
<path d="M595 603.6L632 603.6" stroke="#3a3a3a" stroke-width="0.75" fill="none"/>
<path d="M595 656.8L632 656.8" stroke="#3a3a3a" stroke-width="0.75" fill="none"/>
<path d="M599.2 603.6L599.2 656.8" stroke="#3a3a3a" stroke-width="0.75" fill="none"/>
<path d="M599.2 603.6L597.85 608.2L600.55 608.2Z" fill="#3a3a3a"/>
<path d="M599.2 656.8L597.85 652.2L600.55 652.2Z" fill="#3a3a3a"/>
<text x="597.9" y="630.2" font-size="12" text-anchor="middle" letter-spacing="0.5" fill="#333" font-weight="normal" transform="rotate(-90 597.9 630.2)">50</text>
<path d="M635 659L635 706.5" stroke="#3a3a3a" stroke-width="0.75" fill="none"/>
<path d="M689 659L689 706.5" stroke="#3a3a3a" stroke-width="0.75" fill="none"/>
<path d="M635 703.8L689 703.8" stroke="#3a3a3a" stroke-width="0.75" fill="none"/>
<path d="M635 703.8L639.6 702.45L639.6 705.15Z" fill="#3a3a3a"/>
<path d="M689 703.8L684.4 702.45L684.4 705.15Z" fill="#3a3a3a"/>
<text x="662" y="702.3" font-size="12" text-anchor="middle" letter-spacing="0.5" fill="#333" font-weight="normal">50</text>
<path d="M634.5 658L616.3 724.6" stroke="#3a3a3a" stroke-width="0.75" fill="none"/>
<path d="M616.3 724.6L694.8 724.6" stroke="#3a3a3a" stroke-width="0.75" fill="none"/>
<text x="624" y="722.8" font-size="11" text-anchor="start" letter-spacing="0.9" fill="#333" font-weight="normal">4–Φ4.5贯穿</text>
<text x="622" y="737" font-size="11" text-anchor="start" letter-spacing="0.8" fill="#333" font-weight="normal">沉头Φ8深4.5</text>
<rect x="391.7" y="844.9" width="16.3" height="19.8" rx="1" stroke="#1e1e1e" stroke-width="0.9199999999999999" fill="#fff"/>
<rect x="408" y="847.6" width="3.2" height="4.6" rx="0.8" stroke="#1e1e1e" stroke-width="0.8049999999999999" fill="#fff"/>
<rect x="408" y="856.4" width="3.2" height="4.6" rx="0.8" stroke="#1e1e1e" stroke-width="0.8049999999999999" fill="#fff"/>
<path d="M402.2 864.7L402.2 877.3" stroke="#1e1e1e" stroke-width="0.84" fill="none"/>
<path d="M406.6 864.7L406.6 877.3" stroke="#1e1e1e" stroke-width="0.84" fill="none"/>
<rect x="403" y="866" width="2.8" height="4" rx="0" stroke="#1e1e1e" stroke-width="0.69" fill="none"/>
<rect x="399.6" y="894" width="12.2" height="21.6" rx="0" stroke="#1e1e1e" stroke-width="0.9199999999999999" fill="#fff"/>
<path d="M399.6 895.6L411.8 895.6" stroke="#1e1e1e" stroke-width="0.72" fill="none"/>
<path d="M405.7 876L405.7 938" stroke="#1e1e1e" stroke-width="0.96" fill="none"/>
<rect x="398.3" y="915.6" width="14.8" height="14.8" rx="2" stroke="#1e1e1e" stroke-width="1.035" fill="#c4c4c4"/>
<path d="M399.94 916.4L399.94 929.6" stroke="#3a3a3a" stroke-width="0.45" fill="none"/>
<path d="M401.59 916.4L401.59 929.6" stroke="#3a3a3a" stroke-width="0.45" fill="none"/>
<path d="M403.23 916.4L403.23 929.6" stroke="#3a3a3a" stroke-width="0.45" fill="none"/>
<path d="M404.88 916.4L404.88 929.6" stroke="#3a3a3a" stroke-width="0.45" fill="none"/>
<path d="M406.52 916.4L406.52 929.6" stroke="#3a3a3a" stroke-width="0.45" fill="none"/>
<path d="M408.17 916.4L408.17 929.6" stroke="#3a3a3a" stroke-width="0.45" fill="none"/>
<path d="M409.81 916.4L409.81 929.6" stroke="#3a3a3a" stroke-width="0.45" fill="none"/>
<path d="M411.46 916.4L411.46 929.6" stroke="#3a3a3a" stroke-width="0.45" fill="none"/>
<path d="M398.9 917.45L412.5 917.45" stroke="#3a3a3a" stroke-width="0.4" fill="none"/>
<path d="M398.9 919.3L412.5 919.3" stroke="#3a3a3a" stroke-width="0.4" fill="none"/>
<path d="M398.9 921.15L412.5 921.15" stroke="#3a3a3a" stroke-width="0.4" fill="none"/>
<path d="M398.9 923L412.5 923" stroke="#3a3a3a" stroke-width="0.4" fill="none"/>
<path d="M398.9 924.85L412.5 924.85" stroke="#3a3a3a" stroke-width="0.4" fill="none"/>
<path d="M398.9 926.7L412.5 926.7" stroke="#3a3a3a" stroke-width="0.4" fill="none"/>
<path d="M398.9 928.55L412.5 928.55" stroke="#3a3a3a" stroke-width="0.4" fill="none"/>
<rect x="400.3" y="930.4" width="10.8" height="3.8" rx="0.8" stroke="#1e1e1e" stroke-width="0.9199999999999999" fill="#fff"/>
<rect x="393" y="877.3" width="21.3" height="16.7" rx="0" stroke="#1e1e1e" stroke-width="1.035" fill="#fff"/>
<path d="M394.6 885.7L397.2 883.88L399.8 885.7L397.2 887.52Z" fill="#1e1e1e"/>
<path d="M397.2 882.32L397.2 889.08" stroke="#1e1e1e" stroke-width="0.84" fill="none"/>
<path d="M393.5 885.7L401.5 885.7" stroke="#1e1e1e" stroke-width="0.84" fill="none"/>
<circle cx="397.2" cy="885.7" r="2.6" stroke="#555" stroke-width="0.5" fill="none"/>
<rect x="334.5" y="836.8" width="11.5" height="1.8" rx="0.9" fill="#1e1e1e"/>
<rect x="370" y="836.8" width="12" height="1.8" rx="0.9" fill="#1e1e1e"/>
<rect x="334.5" y="904.1" width="11.5" height="1.8" rx="0.9" fill="#1e1e1e"/>
<rect x="370" y="904.1" width="12" height="1.8" rx="0.9" fill="#1e1e1e"/>
<rect x="326.5" y="838.6" width="65.2" height="65.5" rx="1" stroke="#1e1e1e" stroke-width="1.6099999999999999" fill="#fff"/>
<path d="M358.9 836.5L358.9 968.5" stroke="#1e1e1e" stroke-width="0.96" fill="none"/>
<path d="M309.7 871L394.5 871" stroke="#1e1e1e" stroke-width="1.08" fill="none"/>
<circle cx="336.9" cy="846.3" r="2.9" stroke="#555" stroke-width="0.5" fill="none"/>
<circle cx="336.9" cy="846.3" r="1.4" stroke="#1e1e1e" stroke-width="0.8" fill="none"/>
<circle cx="336.9" cy="863.3" r="2.9" stroke="#555" stroke-width="0.5" fill="none"/>
<circle cx="336.9" cy="863.3" r="1.4" stroke="#1e1e1e" stroke-width="0.8" fill="none"/>
<circle cx="336.9" cy="879.8" r="2.9" stroke="#555" stroke-width="0.5" fill="none"/>
<circle cx="336.9" cy="879.8" r="1.4" stroke="#1e1e1e" stroke-width="0.8" fill="none"/>
<circle cx="336.9" cy="896.1" r="2.9" stroke="#555" stroke-width="0.5" fill="none"/>
<circle cx="336.9" cy="896.1" r="1.4" stroke="#1e1e1e" stroke-width="0.8" fill="none"/>
<circle cx="380.4" cy="846.3" r="2.9" stroke="#555" stroke-width="0.5" fill="none"/>
<circle cx="380.4" cy="846.3" r="1.4" stroke="#1e1e1e" stroke-width="0.8" fill="none"/>
<circle cx="380.4" cy="863.3" r="2.9" stroke="#555" stroke-width="0.5" fill="none"/>
<circle cx="380.4" cy="863.3" r="1.4" stroke="#1e1e1e" stroke-width="0.8" fill="none"/>
<circle cx="380.4" cy="879.8" r="2.9" stroke="#555" stroke-width="0.5" fill="none"/>
<circle cx="380.4" cy="879.8" r="1.4" stroke="#1e1e1e" stroke-width="0.8" fill="none"/>
<circle cx="380.4" cy="896.1" r="2.9" stroke="#555" stroke-width="0.5" fill="none"/>
<circle cx="380.4" cy="896.1" r="1.4" stroke="#1e1e1e" stroke-width="0.8" fill="none"/>
<path d="M329.5 844.2L331.7 842.66L333.9 844.2L331.7 845.74Z" fill="#1e1e1e"/>
<path d="M331.7 841.34L331.7 847.06" stroke="#1e1e1e" stroke-width="0.84" fill="none"/>
<path d="M329.5 897.2L331.7 895.66L333.9 897.2L331.7 898.74Z" fill="#1e1e1e"/>
<path d="M331.7 894.34L331.7 900.06" stroke="#1e1e1e" stroke-width="0.84" fill="none"/>
<path d="M356.7 844.2L358.9 842.66L361.1 844.2L358.9 845.74Z" fill="#1e1e1e"/>
<path d="M358.9 841.34L358.9 847.06" stroke="#1e1e1e" stroke-width="0.84" fill="none"/>
<path d="M356.7 871L358.9 869.46L361.1 871L358.9 872.54Z" fill="#1e1e1e"/>
<path d="M358.9 868.14L358.9 873.86" stroke="#1e1e1e" stroke-width="0.84" fill="none"/>
<path d="M356.7 897.2L358.9 895.66L361.1 897.2L358.9 898.74Z" fill="#1e1e1e"/>
<path d="M358.9 894.34L358.9 900.06" stroke="#1e1e1e" stroke-width="0.84" fill="none"/>
<path d="M383.9 844.2L386.1 842.66L388.3 844.2L386.1 845.74Z" fill="#1e1e1e"/>
<path d="M386.1 841.34L386.1 847.06" stroke="#1e1e1e" stroke-width="0.84" fill="none"/>
<path d="M383.9 871L386.1 869.46L388.3 871L386.1 872.54Z" fill="#1e1e1e"/>
<path d="M386.1 868.14L386.1 873.86" stroke="#1e1e1e" stroke-width="0.84" fill="none"/>
<path d="M383.9 897.2L386.1 895.66L388.3 897.2L386.1 898.74Z" fill="#1e1e1e"/>
<path d="M386.1 894.34L386.1 900.06" stroke="#1e1e1e" stroke-width="0.84" fill="none"/>
<rect x="325.1" y="859" width="1.4" height="24" rx="0.7" fill="#1e1e1e"/>
<rect x="312.9" y="865.8" width="11.9" height="11.1" rx="1" stroke="#1e1e1e" stroke-width="0.9199999999999999" fill="#fff"/>
<path d="M324.8 866.5L324.8 876" stroke="#1e1e1e" stroke-width="0.72" fill="none"/>
<path d="M332.5 900L332.5 969" stroke="#3a3a3a" stroke-width="0.75" fill="none"/>
<path d="M386 900L386 969" stroke="#3a3a3a" stroke-width="0.75" fill="none"/>
<path d="M332.5 966.4L358.9 966.4" stroke="#3a3a3a" stroke-width="0.75" fill="none"/>
<path d="M332.5 966.4L337.1 965.05L337.1 967.75Z" fill="#3a3a3a"/>
<path d="M358.9 966.4L354.3 965.05L354.3 967.75Z" fill="#3a3a3a"/>
<text x="345.7" y="964.9" font-size="12" text-anchor="middle" letter-spacing="0.5" fill="#333" font-weight="normal">25</text>
<path d="M358.9 966.4L386 966.4" stroke="#3a3a3a" stroke-width="0.75" fill="none"/>
<path d="M358.9 966.4L363.5 965.05L363.5 967.75Z" fill="#3a3a3a"/>
<path d="M386 966.4L381.4 965.05L381.4 967.75Z" fill="#3a3a3a"/>
<text x="372.45" y="964.9" font-size="12" text-anchor="middle" letter-spacing="0.5" fill="#333" font-weight="normal">25</text>
<path d="M313 878L313 983" stroke="#3a3a3a" stroke-width="0.75" fill="none"/>
<path d="M326.5 906L326.5 983" stroke="#3a3a3a" stroke-width="0.75" fill="none"/>
<path d="M391.7 906L391.7 983" stroke="#3a3a3a" stroke-width="0.75" fill="none"/>
<path d="M413.4 895L413.4 983" stroke="#3a3a3a" stroke-width="0.75" fill="none"/>
<path d="M283.5 980.6L326.5 980.6" stroke="#3a3a3a" stroke-width="0.75" fill="none"/>
<path d="M313 980.6L317.6 979.25L317.6 981.95Z" fill="#3a3a3a"/>
<path d="M326.5 980.6L321.9 979.25L321.9 981.95Z" fill="#3a3a3a"/>
<text x="294.6" y="979.2" font-size="12" text-anchor="middle" letter-spacing="0.5" fill="#333" font-weight="normal">12.6</text>
<path d="M326.5 980.6L391.7 980.6" stroke="#3a3a3a" stroke-width="0.75" fill="none"/>
<path d="M326.5 980.6L331.1 979.25L331.1 981.95Z" fill="#3a3a3a"/>
<path d="M391.7 980.6L387.1 979.25L387.1 981.95Z" fill="#3a3a3a"/>
<text x="359.1" y="979.1" font-size="12" text-anchor="middle" letter-spacing="0.5" fill="#333" font-weight="normal">60</text>
<path d="M391.7 980.6L413.4 980.6" stroke="#3a3a3a" stroke-width="0.75" fill="none"/>
<path d="M391.7 980.6L396.3 979.25L396.3 981.95Z" fill="#3a3a3a"/>
<path d="M413.4 980.6L408.8 979.25L408.8 981.95Z" fill="#3a3a3a"/>
<text x="402.8" y="979.1" font-size="12" text-anchor="middle" letter-spacing="0.5" fill="#333" font-weight="normal">20</text>
<path d="M281 838.6L325.5 838.6" stroke="#3a3a3a" stroke-width="0.75" fill="none"/>
<path d="M296 844.2L330 844.2" stroke="#3a3a3a" stroke-width="0.75" fill="none"/>
<path d="M296 871L310 871" stroke="#3a3a3a" stroke-width="0.75" fill="none"/>
<path d="M296 897.2L330 897.2" stroke="#3a3a3a" stroke-width="0.75" fill="none"/>
<path d="M281 904.1L325.5 904.1" stroke="#3a3a3a" stroke-width="0.75" fill="none"/>
<path d="M281 934L406 934" stroke="#3a3a3a" stroke-width="0.75" fill="none"/>
<path d="M299.3 844.2L299.3 871" stroke="#3a3a3a" stroke-width="0.75" fill="none"/>
<path d="M299.3 844.2L297.95 848.8L300.65 848.8Z" fill="#3a3a3a"/>
<path d="M299.3 871L297.95 866.4L300.65 866.4Z" fill="#3a3a3a"/>
<text x="298" y="857.6" font-size="12" text-anchor="middle" letter-spacing="0.5" fill="#333" font-weight="normal" transform="rotate(-90 298 857.6)">25</text>
<path d="M299.3 871L299.3 897.2" stroke="#3a3a3a" stroke-width="0.75" fill="none"/>
<path d="M299.3 871L297.95 875.6L300.65 875.6Z" fill="#3a3a3a"/>
<path d="M299.3 897.2L297.95 892.6L300.65 892.6Z" fill="#3a3a3a"/>
<text x="298" y="884.1" font-size="12" text-anchor="middle" letter-spacing="0.5" fill="#333" font-weight="normal" transform="rotate(-90 298 884.1)">25</text>
<path d="M284.2 838.6L284.2 904.1" stroke="#3a3a3a" stroke-width="0.75" fill="none"/>
<path d="M284.2 838.6L282.85 843.2L285.55 843.2Z" fill="#3a3a3a"/>
<path d="M284.2 904.1L282.85 899.5L285.55 899.5Z" fill="#3a3a3a"/>
<text x="282.9" y="871.35" font-size="12" text-anchor="middle" letter-spacing="0.5" fill="#333" font-weight="normal" transform="rotate(-90 282.9 871.35)">60</text>
<path d="M284.2 904.1L284.2 934" stroke="#3a3a3a" stroke-width="0.75" fill="none"/>
<path d="M284.2 904.1L282.85 908.7L285.55 908.7Z" fill="#3a3a3a"/>
<path d="M284.2 934L282.85 929.4L285.55 929.4Z" fill="#3a3a3a"/>
<text x="282.9" y="919.05" font-size="12" text-anchor="middle" letter-spacing="0.5" fill="#333" font-weight="normal" transform="rotate(-90 282.9 919.05)">28</text>
<path d="M331.5 898L303.3 964.8" stroke="#3a3a3a" stroke-width="0.75" fill="none"/>
<path d="M254.2 964.8L303.3 964.8" stroke="#3a3a3a" stroke-width="0.75" fill="none"/>
<text x="254.2" y="963" font-size="11" text-anchor="start" letter-spacing="0.6" fill="#333" font-weight="normal">9–M3深5</text>
<rect x="498.7" y="894.5" width="12.2" height="21.6" rx="0" stroke="#1e1e1e" stroke-width="0.9199999999999999" fill="#fff"/>
<path d="M498.7 896.1L510.9 896.1" stroke="#1e1e1e" stroke-width="0.72" fill="none"/>
<path d="M504.8 876.5L504.8 938.5" stroke="#1e1e1e" stroke-width="0.96" fill="none"/>
<rect x="497.4" y="916.1" width="14.8" height="14.8" rx="2" stroke="#1e1e1e" stroke-width="1.035" fill="#c4c4c4"/>
<path d="M499.04 916.9L499.04 930.1" stroke="#3a3a3a" stroke-width="0.45" fill="none"/>
<path d="M500.69 916.9L500.69 930.1" stroke="#3a3a3a" stroke-width="0.45" fill="none"/>
<path d="M502.33 916.9L502.33 930.1" stroke="#3a3a3a" stroke-width="0.45" fill="none"/>
<path d="M503.98 916.9L503.98 930.1" stroke="#3a3a3a" stroke-width="0.45" fill="none"/>
<path d="M505.62 916.9L505.62 930.1" stroke="#3a3a3a" stroke-width="0.45" fill="none"/>
<path d="M507.27 916.9L507.27 930.1" stroke="#3a3a3a" stroke-width="0.45" fill="none"/>
<path d="M508.91 916.9L508.91 930.1" stroke="#3a3a3a" stroke-width="0.45" fill="none"/>
<path d="M510.56 916.9L510.56 930.1" stroke="#3a3a3a" stroke-width="0.45" fill="none"/>
<path d="M498 917.95L511.6 917.95" stroke="#3a3a3a" stroke-width="0.4" fill="none"/>
<path d="M498 919.8L511.6 919.8" stroke="#3a3a3a" stroke-width="0.4" fill="none"/>
<path d="M498 921.65L511.6 921.65" stroke="#3a3a3a" stroke-width="0.4" fill="none"/>
<path d="M498 923.5L511.6 923.5" stroke="#3a3a3a" stroke-width="0.4" fill="none"/>
<path d="M498 925.35L511.6 925.35" stroke="#3a3a3a" stroke-width="0.4" fill="none"/>
<path d="M498 927.2L511.6 927.2" stroke="#3a3a3a" stroke-width="0.4" fill="none"/>
<path d="M498 929.05L511.6 929.05" stroke="#3a3a3a" stroke-width="0.4" fill="none"/>
<rect x="499.4" y="930.9" width="10.8" height="3.8" rx="0.8" stroke="#1e1e1e" stroke-width="0.9199999999999999" fill="#fff"/>
<path d="M497.5 838.6L516.7 838.6L517.2 839.1L517.2 902.1L516.7 902.6L497.5 902.6L497 902.1L497 839.1Z" stroke="#333" stroke-width="1.0" fill="#fff" stroke-linejoin="round"/>
<rect x="503.5" y="836.8" width="5.5" height="1.8" rx="0.9" fill="#1e1e1e"/>
<path d="M509.5 838.6L509.5 902.6" stroke="#1e1e1e" stroke-width="0.96" fill="none"/>
<path d="M514.6 838.6L514.6 902.6" stroke="#444" stroke-width="0.6" fill="none"/>
<path d="M509.5 841L514.6 841" stroke="#1e1e1e" stroke-width="0.84" fill="none"/>
<path d="M509.5 900L514.6 900" stroke="#1e1e1e" stroke-width="0.84" fill="none"/>
<path d="M507 844.4L520 844.4" stroke="#1e1e1e" stroke-width="1.08" fill="none"/>
<path d="M507 897.9L520 897.9" stroke="#1e1e1e" stroke-width="1.08" fill="none"/>
<circle cx="500.6" cy="849.8" r="2.2" stroke="#555" stroke-width="0.5" fill="none"/>
<path d="M498.6 849.8L500.6 848.4L502.6 849.8L500.6 851.2Z" fill="#1e1e1e"/>
<path d="M500.6 847.2L500.6 852.4" stroke="#1e1e1e" stroke-width="0.84" fill="none"/>
<path d="M497.5 849.8L504 849.8" stroke="#1e1e1e" stroke-width="0.84" fill="none"/>
<circle cx="500.6" cy="858.3" r="2.2" stroke="#555" stroke-width="0.5" fill="none"/>
<path d="M498.6 858.3L500.6 856.9L502.6 858.3L500.6 859.7Z" fill="#1e1e1e"/>
<path d="M500.6 855.7L500.6 860.9" stroke="#1e1e1e" stroke-width="0.84" fill="none"/>
<path d="M497.5 858.3L504 858.3" stroke="#1e1e1e" stroke-width="0.84" fill="none"/>
<path d="M510.8 852.9L512.6 851.64L514.4 852.9L512.6 854.16Z" fill="#1e1e1e"/>
<path d="M512.6 850.56L512.6 855.24" stroke="#1e1e1e" stroke-width="0.84" fill="none"/>
<path d="M510.8 861.4L512.6 860.14L514.4 861.4L512.6 862.66Z" fill="#1e1e1e"/>
<path d="M512.6 859.06L512.6 863.74" stroke="#1e1e1e" stroke-width="0.84" fill="none"/>
<path d="M497 863.8L509.5 863.8" stroke="#444" stroke-width="0.6" fill="none"/>
<path d="M497 877.7L509.5 877.7" stroke="#444" stroke-width="0.6" fill="none"/>
<path d="M497 893.2L509.5 893.2" stroke="#444" stroke-width="0.6" fill="none"/>
<path d="M502 864L502 877" stroke="#444" stroke-width="0.5" fill="none"/>
<path d="M507 864L507 877" stroke="#444" stroke-width="0.5" fill="none"/>
<path d="M502.5 868L506.5 871.5" stroke="#444" stroke-width="0.5" fill="none"/>
<path d="M506.5 868L502.5 871.5" stroke="#444" stroke-width="0.5" fill="none"/>
<circle cx="512.1" cy="881.1" r="2.2" stroke="#1e1e1e" stroke-width="0.7" fill="#ccc"/>
<circle cx="512.1" cy="889.3" r="2.2" stroke="#1e1e1e" stroke-width="0.7" fill="#ccc"/>
<path d="M504.8 860L504.8 903" stroke="#444" stroke-width="0.6" fill="none"/>
<path d="M517.2 904.5L517.2 982" stroke="#3a3a3a" stroke-width="0.75" fill="none"/>
<path d="M515.3 904.5L515.3 954" stroke="#3a3a3a" stroke-width="0.75" fill="none"/>
<path d="M509.5 904.5L509.5 968.5" stroke="#3a3a3a" stroke-width="0.75" fill="none"/>
<path d="M497 904.5L497 982" stroke="#3a3a3a" stroke-width="0.75" fill="none"/>
<path d="M506.3 950.3L542 950.3" stroke="#3a3a3a" stroke-width="0.75" fill="none"/>
<path d="M515.3 950.3L510.7 948.95L510.7 951.65Z" fill="#3a3a3a"/>
<path d="M517.2 950.3L521.8 948.95L521.8 951.65Z" fill="#3a3a3a"/>
<text x="533" y="948.9" font-size="12" text-anchor="middle" letter-spacing="0.5" fill="#333" font-weight="normal">1.5</text>
<path d="M500 965L542 965" stroke="#3a3a3a" stroke-width="0.75" fill="none"/>
<path d="M509.5 965L504.9 963.65L504.9 966.35Z" fill="#3a3a3a"/>
<path d="M517.2 965L521.8 963.65L521.8 966.35Z" fill="#3a3a3a"/>
<text x="533" y="963.6" font-size="12" text-anchor="middle" letter-spacing="0.5" fill="#333" font-weight="normal">6.5</text>
<path d="M497 979.6L517.2 979.6" stroke="#3a3a3a" stroke-width="0.75" fill="none"/>
<path d="M497 979.6L501.6 978.25L501.6 980.95Z" fill="#3a3a3a"/>
<path d="M517.2 979.6L512.6 978.25L512.6 980.95Z" fill="#3a3a3a"/>
<text x="507.6" y="978.2" font-size="12" text-anchor="middle" letter-spacing="0.5" fill="#333" font-weight="normal">18</text>
<rect x="612.9" y="844.4" width="16.5" height="19.5" rx="1" stroke="#1e1e1e" stroke-width="0.9199999999999999" fill="#fff"/>
<rect x="610" y="846.8" width="2.9" height="5.6" rx="0.8" stroke="#1e1e1e" stroke-width="0.8049999999999999" fill="#fff"/>
<rect x="610" y="855.9" width="2.9" height="5.6" rx="0.8" stroke="#1e1e1e" stroke-width="0.8049999999999999" fill="#fff"/>
<path d="M614.7 863.9L614.7 877.2" stroke="#1e1e1e" stroke-width="0.84" fill="none"/>
<path d="M618.6 863.9L618.6 877.2" stroke="#1e1e1e" stroke-width="0.84" fill="none"/>
<rect x="615.3" y="865.2" width="2.7" height="4" rx="0" stroke="#1e1e1e" stroke-width="0.69" fill="none"/>
<rect x="611.2" y="894.1" width="12.2" height="21.6" rx="0" stroke="#1e1e1e" stroke-width="0.9199999999999999" fill="#fff"/>
<path d="M611.2 895.7L623.4 895.7" stroke="#1e1e1e" stroke-width="0.72" fill="none"/>
<path d="M617.3 876.1L617.3 938.1" stroke="#1e1e1e" stroke-width="0.96" fill="none"/>
<rect x="609.9" y="915.7" width="14.8" height="14.8" rx="2" stroke="#1e1e1e" stroke-width="1.035" fill="#c4c4c4"/>
<path d="M611.54 916.5L611.54 929.7" stroke="#3a3a3a" stroke-width="0.45" fill="none"/>
<path d="M613.19 916.5L613.19 929.7" stroke="#3a3a3a" stroke-width="0.45" fill="none"/>
<path d="M614.83 916.5L614.83 929.7" stroke="#3a3a3a" stroke-width="0.45" fill="none"/>
<path d="M616.48 916.5L616.48 929.7" stroke="#3a3a3a" stroke-width="0.45" fill="none"/>
<path d="M618.12 916.5L618.12 929.7" stroke="#3a3a3a" stroke-width="0.45" fill="none"/>
<path d="M619.77 916.5L619.77 929.7" stroke="#3a3a3a" stroke-width="0.45" fill="none"/>
<path d="M621.41 916.5L621.41 929.7" stroke="#3a3a3a" stroke-width="0.45" fill="none"/>
<path d="M623.06 916.5L623.06 929.7" stroke="#3a3a3a" stroke-width="0.45" fill="none"/>
<path d="M610.5 917.55L624.1 917.55" stroke="#3a3a3a" stroke-width="0.4" fill="none"/>
<path d="M610.5 919.4L624.1 919.4" stroke="#3a3a3a" stroke-width="0.4" fill="none"/>
<path d="M610.5 921.25L624.1 921.25" stroke="#3a3a3a" stroke-width="0.4" fill="none"/>
<path d="M610.5 923.1L624.1 923.1" stroke="#3a3a3a" stroke-width="0.4" fill="none"/>
<path d="M610.5 924.95L624.1 924.95" stroke="#3a3a3a" stroke-width="0.4" fill="none"/>
<path d="M610.5 926.8L624.1 926.8" stroke="#3a3a3a" stroke-width="0.4" fill="none"/>
<path d="M610.5 928.65L624.1 928.65" stroke="#3a3a3a" stroke-width="0.4" fill="none"/>
<rect x="611.9" y="930.5" width="10.8" height="3.8" rx="0.8" stroke="#1e1e1e" stroke-width="0.9199999999999999" fill="#fff"/>
<rect x="607.8" y="877.2" width="19.9" height="16.9" rx="0" stroke="#1e1e1e" stroke-width="1.035" fill="#fff"/>
<path d="M622 885.5L624 884.1L626 885.5L624 886.9Z" fill="#1e1e1e"/>
<path d="M624 882.9L624 888.1" stroke="#1e1e1e" stroke-width="0.84" fill="none"/>
<rect x="637.4" y="836.5" width="11.5" height="1.8" rx="0.9" fill="#1e1e1e"/>
<rect x="672.9" y="836.5" width="12" height="1.8" rx="0.9" fill="#1e1e1e"/>
<rect x="637.4" y="904.5" width="11.5" height="1.8" rx="0.9" fill="#1e1e1e"/>
<rect x="672.9" y="904.5" width="12" height="1.8" rx="0.9" fill="#1e1e1e"/>
<rect x="629.4" y="838.3" width="66.3" height="66.2" rx="1" stroke="#1e1e1e" stroke-width="1.6099999999999999" fill="#fff"/>
<path d="M662.4 836L662.4 906.5" stroke="#1e1e1e" stroke-width="0.96" fill="none"/>
<path d="M629.4 871.3L695.7 871.3" stroke="#1e1e1e" stroke-width="1.08" fill="none"/>
<path d="M645.6 838.3L645.6 904.5" stroke="#444" stroke-width="0.6" fill="none"/>
<path d="M679.7 838.3L679.7 904.5" stroke="#444" stroke-width="0.6" fill="none"/>
<circle cx="648.3" cy="846.7" r="3.5" stroke="#555" stroke-width="0.5" fill="none"/>
<circle cx="648.3" cy="846.7" r="1.6" stroke="#1e1e1e" stroke-width="0.8" fill="none"/>
<circle cx="648.3" cy="862.3" r="3.5" stroke="#555" stroke-width="0.5" fill="none"/>
<circle cx="648.3" cy="862.3" r="1.6" stroke="#1e1e1e" stroke-width="0.8" fill="none"/>
<circle cx="648.3" cy="879.2" r="3.5" stroke="#555" stroke-width="0.5" fill="none"/>
<circle cx="648.3" cy="879.2" r="1.6" stroke="#1e1e1e" stroke-width="0.8" fill="none"/>
<circle cx="648.3" cy="894.8" r="3.5" stroke="#555" stroke-width="0.5" fill="none"/>
<circle cx="648.3" cy="894.8" r="1.6" stroke="#1e1e1e" stroke-width="0.8" fill="none"/>
<circle cx="676.5" cy="846.7" r="3.5" stroke="#555" stroke-width="0.5" fill="none"/>
<circle cx="676.5" cy="846.7" r="1.6" stroke="#1e1e1e" stroke-width="0.8" fill="none"/>
<circle cx="676.5" cy="862.3" r="3.5" stroke="#555" stroke-width="0.5" fill="none"/>
<circle cx="676.5" cy="862.3" r="1.6" stroke="#1e1e1e" stroke-width="0.8" fill="none"/>
<circle cx="676.5" cy="879.2" r="3.5" stroke="#555" stroke-width="0.5" fill="none"/>
<circle cx="676.5" cy="879.2" r="1.6" stroke="#1e1e1e" stroke-width="0.8" fill="none"/>
<circle cx="676.5" cy="894.8" r="3.5" stroke="#555" stroke-width="0.5" fill="none"/>
<circle cx="676.5" cy="894.8" r="1.6" stroke="#1e1e1e" stroke-width="0.8" fill="none"/>
<circle cx="635.5" cy="844.1" r="3.3" stroke="#555" stroke-width="0.5" fill="none"/>
<circle cx="635.5" cy="844.1" r="1.81" stroke="#555" stroke-width="0.5" fill="none"/>
<path d="M630.7 844.1L640.3 844.1" stroke="#1e1e1e" stroke-width="0.96" fill="none"/>
<path d="M635.5 839.3L635.5 848.9" stroke="#1e1e1e" stroke-width="0.96" fill="none"/>
<circle cx="635.5" cy="898" r="3.3" stroke="#555" stroke-width="0.5" fill="none"/>
<circle cx="635.5" cy="898" r="1.81" stroke="#555" stroke-width="0.5" fill="none"/>
<path d="M630.7 898L640.3 898" stroke="#1e1e1e" stroke-width="0.96" fill="none"/>
<path d="M635.5 893.2L635.5 902.8" stroke="#1e1e1e" stroke-width="0.96" fill="none"/>
<circle cx="689.5" cy="844.1" r="3.3" stroke="#555" stroke-width="0.5" fill="none"/>
<circle cx="689.5" cy="844.1" r="1.81" stroke="#555" stroke-width="0.5" fill="none"/>
<path d="M684.7 844.1L694.3 844.1" stroke="#1e1e1e" stroke-width="0.96" fill="none"/>
<path d="M689.5 839.3L689.5 848.9" stroke="#1e1e1e" stroke-width="0.96" fill="none"/>
<circle cx="689.5" cy="898" r="3.3" stroke="#555" stroke-width="0.5" fill="none"/>
<circle cx="689.5" cy="898" r="1.81" stroke="#555" stroke-width="0.5" fill="none"/>
<path d="M684.7 898L694.3 898" stroke="#1e1e1e" stroke-width="0.96" fill="none"/>
<path d="M689.5 893.2L689.5 902.8" stroke="#1e1e1e" stroke-width="0.96" fill="none"/>
<rect x="695.7" y="859" width="1.4" height="24" rx="0.7" fill="#1e1e1e"/>
<rect x="697.5" y="865.7" width="11.9" height="10.8" rx="0.8" stroke="#1e1e1e" stroke-width="0.9199999999999999" fill="#8a8a8a"/>
<path d="M699.2 866.2L699.2 876" stroke="#333" stroke-width="0.5" fill="none"/>
<path d="M700.9 866.2L700.9 876" stroke="#333" stroke-width="0.5" fill="none"/>
<path d="M702.6 866.2L702.6 876" stroke="#333" stroke-width="0.5" fill="none"/>
<path d="M704.3 866.2L704.3 876" stroke="#333" stroke-width="0.5" fill="none"/>
<path d="M706 866.2L706 876" stroke="#333" stroke-width="0.5" fill="none"/>
<path d="M707.7 866.2L707.7 876" stroke="#333" stroke-width="0.5" fill="none"/>
<path d="M695.7 871.3L714 871.3" stroke="#1e1e1e" stroke-width="0.96" fill="none"/>
<path d="M693 844.1L740 844.1" stroke="#3a3a3a" stroke-width="0.75" fill="none"/>
<path d="M693 898L740 898" stroke="#3a3a3a" stroke-width="0.75" fill="none"/>
<path d="M736.4 844.1L736.4 898" stroke="#3a3a3a" stroke-width="0.75" fill="none"/>
<path d="M736.4 844.1L735.05 848.7L737.75 848.7Z" fill="#3a3a3a"/>
<path d="M736.4 898L735.05 893.4L737.75 893.4Z" fill="#3a3a3a"/>
<text x="735.1" y="871.05" font-size="12" text-anchor="middle" letter-spacing="0.5" fill="#333" font-weight="normal" transform="rotate(-90 735.1 871.05)">50</text>
<path d="M635 901L635 947.5" stroke="#3a3a3a" stroke-width="0.75" fill="none"/>
<path d="M689.8 901L689.8 947.5" stroke="#3a3a3a" stroke-width="0.75" fill="none"/>
<path d="M635 945L689.8 945" stroke="#3a3a3a" stroke-width="0.75" fill="none"/>
<path d="M635 945L639.6 943.65L639.6 946.35Z" fill="#3a3a3a"/>
<path d="M689.8 945L685.2 943.65L685.2 946.35Z" fill="#3a3a3a"/>
<text x="662.4" y="943.5" font-size="12" text-anchor="middle" letter-spacing="0.5" fill="#333" font-weight="normal">50</text>
<path d="M690 899L709.4 965.8" stroke="#3a3a3a" stroke-width="0.75" fill="none"/>
<path d="M627.7 965.8L709.4 965.8" stroke="#3a3a3a" stroke-width="0.75" fill="none"/>
<text x="631.2" y="964.3" font-size="12" text-anchor="start" letter-spacing="0.7" fill="#333" font-weight="normal">4–Φ4.5贯穿</text>
<text x="629" y="978.2" font-size="12" text-anchor="start" letter-spacing="0.6" fill="#333" font-weight="normal">沉头Φ8深4.5</text>
</svg>
</div></body></html>
